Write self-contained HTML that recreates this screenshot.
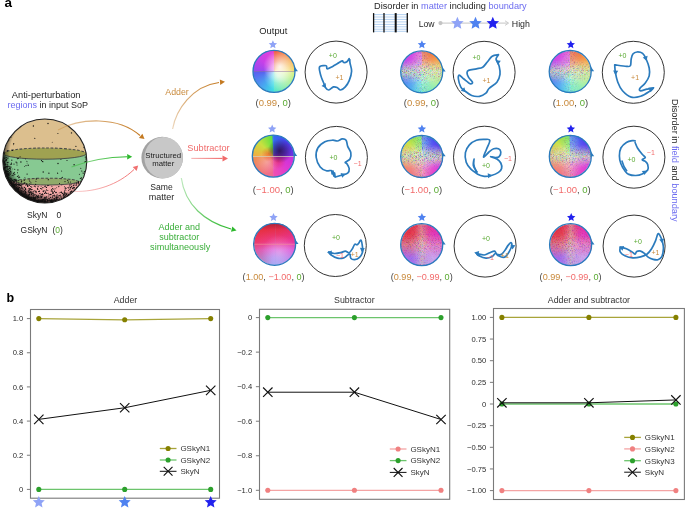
<!DOCTYPE html>
<html><head><meta charset="utf-8"><style>
html,body{margin:0;padding:0;background:#fff;}
body{width:685px;height:509px;overflow:hidden;position:relative;font-family:"Liberation Sans",sans-serif;}
.disk{position:absolute;border-radius:50%;overflow:hidden;}
svg{position:absolute;left:0;top:0;will-change:transform;}
</style></head><body>
<div class="disk" style="left:253.0px;top:50.4px;width:42px;height:42px;background:linear-gradient(180deg, rgba(0,0,0,0) 49%, rgba(150,110,160,0.5) 50%, rgba(150,110,160,0.5) 51.5%, rgba(0,0,0,0) 52.5%), linear-gradient(90deg, rgba(0,0,0,0) 49%, rgba(200,200,230,0.45) 50%, rgba(0,0,0,0) 51.5%), radial-gradient(circle at 64% 40%, rgba(255,255,255,0.85) 0%, rgba(255,255,255,0.4) 25%, rgba(255,255,255,0) 45%), radial-gradient(circle at 60% 62%, rgba(255,255,255,0.6) 0%, rgba(255,255,255,0) 40%),conic-gradient(from 0deg, #f0503c, #f27a3c 30deg, #f5b048 65deg, #f2d85a 89deg, #d8f07a 92deg, #a8f0a0 130deg, #58e8c8 178deg, #40dce6 182deg, #48a8f0 215deg, #5a5cf0 268deg, #9a48f0 272deg, #c840e8 310deg, #e440d8 358deg, #f0503c 360deg);"></div>
<div class="disk" style="left:400.7px;top:50.8px;width:42px;height:42px;background:linear-gradient(180deg, rgba(180,200,160,0) 30%, rgba(170,200,150,0.55) 50%, rgba(180,200,160,0) 70%), radial-gradient(circle at 50% 50%, rgba(255,255,255,0.45) 0%, rgba(255,255,255,0.15) 45%, rgba(255,255,255,0) 75%),conic-gradient(from 0deg, #f0503c, #f27a3c 30deg, #f5b048 65deg, #f2d85a 89deg, #d8f07a 92deg, #a8f0a0 130deg, #58e8c8 178deg, #40dce6 182deg, #48a8f0 215deg, #5a5cf0 268deg, #9a48f0 272deg, #c840e8 310deg, #e440d8 358deg, #f0503c 360deg);"></div>
<div class="disk" style="left:549.2px;top:50.5px;width:42px;height:42px;background:linear-gradient(180deg, rgba(180,200,160,0) 30%, rgba(170,200,150,0.55) 50%, rgba(180,200,160,0) 70%), radial-gradient(circle at 50% 50%, rgba(255,255,255,0.45) 0%, rgba(255,255,255,0.15) 45%, rgba(255,255,255,0) 75%),conic-gradient(from 0deg, #f0503c, #f27a3c 30deg, #f5b048 65deg, #f2d85a 89deg, #d8f07a 92deg, #a8f0a0 130deg, #58e8c8 178deg, #40dce6 182deg, #48a8f0 215deg, #5a5cf0 268deg, #9a48f0 272deg, #c840e8 310deg, #e440d8 358deg, #f0503c 360deg);"></div>
<div class="disk" style="left:252.3px;top:135.1px;width:42px;height:42px;background:linear-gradient(180deg, rgba(0,0,0,0) 49%, rgba(210,215,190,0.7) 50%, rgba(210,215,190,0.7) 51.5%, rgba(0,0,0,0) 52.5%), linear-gradient(90deg, rgba(0,0,0,0) 49%, rgba(200,200,200,0.35) 50%, rgba(0,0,0,0) 51.5%), radial-gradient(circle at 66% 38%, rgba(40,10,50,0.75) 0%, rgba(40,10,50,0.35) 18%, rgba(40,10,50,0) 32%), radial-gradient(circle at 40% 45%, rgba(240,70,30,0.6) 0%, rgba(240,70,30,0) 22%), radial-gradient(circle at 62% 62%, rgba(230,40,60,0.5) 0%, rgba(230,40,60,0) 22%), radial-gradient(circle at 35% 65%, rgba(255,230,230,0.35) 0%, rgba(255,230,230,0) 30%),conic-gradient(from 0deg, #3070f0, #4a40f0 45deg, #7030e0 89deg, #c830e0 91deg, #e03ad0 135deg, #f050b0 178deg, #f06890 182deg, #f07a70 225deg, #f09050 268deg, #f0b040 272deg, #c8e040 315deg, #60e040 357deg, #3070f0 360deg);"></div>
<div class="disk" style="left:400.7px;top:135.5px;width:42px;height:42px;background:linear-gradient(180deg, rgba(180,200,160,0) 30%, rgba(170,200,150,0.55) 50%, rgba(180,200,160,0) 70%), radial-gradient(circle at 50% 50%, rgba(255,255,255,0.45) 0%, rgba(255,255,255,0.15) 45%, rgba(255,255,255,0) 75%),conic-gradient(from 0deg, #3070f0, #4a40f0 45deg, #7030e0 89deg, #c830e0 91deg, #e03ad0 135deg, #f050b0 178deg, #f06890 182deg, #f07a70 225deg, #f09050 268deg, #f0b040 272deg, #c8e040 315deg, #60e040 357deg, #3070f0 360deg);"></div>
<div class="disk" style="left:549.3px;top:135.4px;width:42px;height:42px;background:linear-gradient(180deg, rgba(180,200,160,0) 30%, rgba(170,200,150,0.55) 50%, rgba(180,200,160,0) 70%), radial-gradient(circle at 50% 50%, rgba(255,255,255,0.45) 0%, rgba(255,255,255,0.15) 45%, rgba(255,255,255,0) 75%),conic-gradient(from 0deg, #3070f0, #4a40f0 45deg, #7030e0 89deg, #c830e0 91deg, #e03ad0 135deg, #f050b0 178deg, #f06890 182deg, #f07a70 225deg, #f09050 268deg, #f0b040 272deg, #c8e040 315deg, #60e040 357deg, #3070f0 360deg);"></div>
<div class="disk" style="left:253.6px;top:223.3px;width:42px;height:42px;background:linear-gradient(180deg, rgba(90,20,40,0.35) 0%, rgba(90,20,40,0) 16%), linear-gradient(180deg, rgba(0,0,0,0) 48.5%, rgba(240,150,150,0.45) 49.5%, rgba(240,150,150,0.45) 51.5%, rgba(0,0,0,0) 52.5%), linear-gradient(90deg, rgba(0,0,0,0) 49%, rgba(150,150,220,0.45) 50%, rgba(0,0,0,0) 51.5%), radial-gradient(circle at 60% 70%, rgba(255,255,255,0.3) 0%, rgba(255,255,255,0) 45%),linear-gradient(90deg, rgba(235,50,30,0.35) 0%, rgba(235,50,30,0) 45%, rgba(220,40,200,0) 55%, rgba(220,40,200,0.3) 100%), linear-gradient(180deg, #d8283e 0%, #e6304e 18%, #ee3c8e 45%, #dc6ade 64%, #b48ef0 82%, #a2a4f2 100%);"></div>
<div class="disk" style="left:400.7px;top:223.6px;width:42px;height:42px;background:linear-gradient(90deg, rgba(220,170,140,0) 38%, rgba(220,170,140,0.3) 50%, rgba(220,170,140,0) 62%), radial-gradient(circle at 50% 50%, rgba(255,255,255,0.18) 0%, rgba(255,255,255,0.06) 40%, rgba(255,255,255,0) 70%),radial-gradient(circle at 18% 28%, rgba(226,30,48,0.95) 0%, rgba(226,30,48,0) 48%), radial-gradient(circle at 82% 26%, rgba(226,30,196,0.9) 0%, rgba(226,30,196,0) 48%), radial-gradient(circle at 22% 80%, rgba(150,90,240,0.9) 0%, rgba(150,90,240,0) 45%), radial-gradient(circle at 80% 80%, rgba(200,160,240,0.9) 0%, rgba(200,160,240,0) 45%), linear-gradient(180deg, #e03050 0%, #e84080 45%, #d070d8 70%, #b09af0 100%);"></div>
<div class="disk" style="left:549.6px;top:223.6px;width:42px;height:42px;background:linear-gradient(90deg, rgba(220,170,140,0) 38%, rgba(220,170,140,0.3) 50%, rgba(220,170,140,0) 62%), radial-gradient(circle at 50% 50%, rgba(255,255,255,0.18) 0%, rgba(255,255,255,0.06) 40%, rgba(255,255,255,0) 70%),radial-gradient(circle at 18% 28%, rgba(226,30,48,0.95) 0%, rgba(226,30,48,0) 48%), radial-gradient(circle at 82% 26%, rgba(226,30,196,0.9) 0%, rgba(226,30,196,0) 48%), radial-gradient(circle at 22% 80%, rgba(150,90,240,0.9) 0%, rgba(150,90,240,0) 45%), radial-gradient(circle at 80% 80%, rgba(200,160,240,0.9) 0%, rgba(200,160,240,0) 45%), linear-gradient(180deg, #e03050 0%, #e84080 45%, #d070d8 70%, #b09af0 100%);"></div>
<svg width="685" height="509" viewBox="0 0 685 509" font-family="Liberation Sans, sans-serif">
<text x="4.6" y="7.2" font-size="13.5" fill="#000" text-anchor="start" font-weight="bold">a</text>
<text x="6.5" y="302.2" font-size="12.5" fill="#000" text-anchor="start" font-weight="bold">b</text>
<defs><clipPath id="sph"><circle cx="44.8" cy="161.0" r="42.0"/></clipPath>
<radialGradient id="rim" gradientUnits="userSpaceOnUse" cx="50.8" cy="154.0" r="51"><stop offset="0.80" stop-color="#000" stop-opacity="0"/><stop offset="0.89" stop-color="#000" stop-opacity="0.4"/><stop offset="0.95" stop-color="#000" stop-opacity="0.85"/><stop offset="1" stop-color="#000" stop-opacity="0.95"/></radialGradient></defs>
<g clip-path="url(#sph)">
<rect x="0" y="110" width="95" height="100" fill="#dcbf8e"/>
<rect x="0" y="153.6" width="95" height="28.0" fill="#87c992"/>
<rect x="0" y="181.6" width="95" height="30" fill="#f5aaa8"/>
<ellipse cx="44.8" cy="153.6" rx="41.6" ry="5.6" fill="#9fa251"/>
<ellipse cx="46.7" cy="181.6" rx="31.5" ry="3.4" fill="#90aa6a"/>
<path d="M3.1999999999999957,153.6 A41.6,5.6 0 0 0 86.4,153.6" fill="none" stroke="#444" stroke-width="0.9"/>
<path d="M3.1999999999999957,153.6 A41.6,5.6 0 0 1 86.4,153.6" fill="none" stroke="#4a4a4a" stroke-width="1.1" stroke-dasharray="2.8,1.6"/>
<path d="M15.200000000000003,181.6 A31.5,3.4 0 0 0 78.2,181.6" fill="none" stroke="#444" stroke-width="0.9"/>
<path d="M15.200000000000003,181.6 A31.5,3.4 0 0 1 78.2,181.6" fill="none" stroke="#4a4a4a" stroke-width="1.1" stroke-dasharray="2.8,1.6"/>
<circle cx="44.8" cy="161.0" r="42.0" fill="url(#rim)"/>
<g fill="#111"><circle cx="10.8" cy="178.4" r="0.58"/><circle cx="61.8" cy="185.0" r="0.45"/><circle cx="52.6" cy="201.2" r="0.46"/><circle cx="3.1" cy="164.3" r="0.63"/><circle cx="32.4" cy="195.4" r="0.46"/><circle cx="4.7" cy="167.4" r="0.65"/><circle cx="35.6" cy="184.3" r="0.66"/><circle cx="53.8" cy="189.4" r="0.48"/><circle cx="34.2" cy="190.8" r="0.63"/><circle cx="74.0" cy="187.9" r="0.70"/><circle cx="29.3" cy="196.2" r="0.45"/><circle cx="14.7" cy="169.3" r="0.57"/><circle cx="4.9" cy="171.1" r="0.57"/><circle cx="45.6" cy="202.2" r="0.50"/><circle cx="33.4" cy="200.4" r="0.58"/><circle cx="20.4" cy="194.0" r="0.66"/><circle cx="35.9" cy="181.2" r="0.55"/><circle cx="4.4" cy="162.7" r="0.61"/><circle cx="15.3" cy="189.4" r="0.69"/><circle cx="66.4" cy="194.4" r="0.60"/><circle cx="15.3" cy="184.1" r="0.46"/><circle cx="71.7" cy="191.4" r="0.63"/><circle cx="45.2" cy="200.9" r="0.68"/><circle cx="79.4" cy="174.3" r="0.50"/><circle cx="52.6" cy="193.2" r="0.65"/><circle cx="48.0" cy="119.6" r="0.48"/><circle cx="78.7" cy="181.4" r="0.66"/><circle cx="55.9" cy="192.6" r="0.59"/><circle cx="51.9" cy="186.2" r="0.52"/><circle cx="32.0" cy="191.7" r="0.56"/><circle cx="3.4" cy="163.6" r="0.64"/><circle cx="51.0" cy="201.8" r="0.69"/><circle cx="34.6" cy="197.8" r="0.57"/><circle cx="9.4" cy="170.6" r="0.53"/><circle cx="46.5" cy="196.9" r="0.70"/><circle cx="31.4" cy="194.3" r="0.55"/><circle cx="27.8" cy="186.0" r="0.49"/><circle cx="28.2" cy="197.3" r="0.61"/><circle cx="17.3" cy="192.5" r="0.58"/><circle cx="33.6" cy="201.0" r="0.58"/><circle cx="6.0" cy="166.7" r="0.68"/><circle cx="44.7" cy="199.0" r="0.54"/><circle cx="35.7" cy="201.7" r="0.50"/><circle cx="3.6" cy="161.5" r="0.61"/><circle cx="20.5" cy="193.9" r="0.56"/><circle cx="64.5" cy="190.3" r="0.49"/><circle cx="40.1" cy="199.1" r="0.53"/><circle cx="15.4" cy="189.7" r="0.62"/><circle cx="42.1" cy="200.7" r="0.66"/><circle cx="53.9" cy="199.1" r="0.69"/><circle cx="30.0" cy="191.8" r="0.64"/><circle cx="45.2" cy="199.6" r="0.65"/><circle cx="34.8" cy="138.3" r="0.58"/><circle cx="8.8" cy="179.6" r="0.63"/><circle cx="70.3" cy="187.4" r="0.69"/><circle cx="18.7" cy="189.0" r="0.70"/><circle cx="6.0" cy="175.5" r="0.54"/><circle cx="14.0" cy="185.4" r="0.50"/><circle cx="61.7" cy="198.0" r="0.49"/><circle cx="32.2" cy="201.0" r="0.47"/><circle cx="5.3" cy="164.6" r="0.46"/><circle cx="76.5" cy="187.7" r="0.58"/><circle cx="4.6" cy="161.9" r="0.59"/><circle cx="8.6" cy="181.2" r="0.59"/><circle cx="28.2" cy="198.9" r="0.62"/><circle cx="30.9" cy="182.9" r="0.54"/><circle cx="54.4" cy="191.2" r="0.60"/><circle cx="5.7" cy="167.5" r="0.50"/><circle cx="7.8" cy="174.4" r="0.65"/><circle cx="14.1" cy="174.6" r="0.58"/><circle cx="31.6" cy="189.6" r="0.67"/><circle cx="13.5" cy="175.8" r="0.49"/><circle cx="4.3" cy="161.9" r="0.60"/><circle cx="50.6" cy="201.0" r="0.53"/><circle cx="20.7" cy="185.2" r="0.69"/><circle cx="64.5" cy="196.7" r="0.55"/><circle cx="5.2" cy="160.6" r="0.61"/><circle cx="34.5" cy="199.3" r="0.55"/><circle cx="5.7" cy="170.6" r="0.64"/><circle cx="24.6" cy="197.2" r="0.54"/><circle cx="32.3" cy="200.2" r="0.54"/><circle cx="70.0" cy="184.9" r="0.52"/><circle cx="3.1" cy="159.2" r="0.66"/><circle cx="8.5" cy="171.6" r="0.65"/><circle cx="17.6" cy="192.3" r="0.51"/><circle cx="8.3" cy="180.9" r="0.59"/><circle cx="14.2" cy="188.7" r="0.67"/><circle cx="13.8" cy="188.2" r="0.57"/><circle cx="56.2" cy="199.4" r="0.65"/><circle cx="20.1" cy="193.4" r="0.47"/><circle cx="15.4" cy="184.6" r="0.54"/><circle cx="22.5" cy="188.1" r="0.59"/><circle cx="52.3" cy="197.7" r="0.46"/><circle cx="7.1" cy="166.7" r="0.50"/><circle cx="47.2" cy="201.4" r="0.48"/><circle cx="38.1" cy="186.6" r="0.60"/><circle cx="42.3" cy="202.2" r="0.48"/><circle cx="11.1" cy="173.2" r="0.46"/><circle cx="21.4" cy="188.0" r="0.65"/><circle cx="4.9" cy="168.8" r="0.65"/><circle cx="40.9" cy="201.2" r="0.59"/><circle cx="27.1" cy="163.1" r="0.46"/><circle cx="17.9" cy="190.5" r="0.56"/><circle cx="16.5" cy="181.0" r="0.69"/><circle cx="4.0" cy="158.0" r="0.48"/><circle cx="64.9" cy="193.5" r="0.45"/><circle cx="40.0" cy="201.5" r="0.52"/><circle cx="16.6" cy="191.1" r="0.54"/><circle cx="43.2" cy="172.0" r="0.68"/><circle cx="61.1" cy="192.0" r="0.51"/><circle cx="79.0" cy="184.0" r="0.55"/><circle cx="36.1" cy="196.8" r="0.65"/><circle cx="4.3" cy="168.0" r="0.47"/><circle cx="3.8" cy="169.0" r="0.62"/><circle cx="50.5" cy="200.6" r="0.69"/><circle cx="16.6" cy="187.2" r="0.53"/><circle cx="25.9" cy="192.5" r="0.53"/><circle cx="4.1" cy="164.5" r="0.47"/><circle cx="10.8" cy="137.2" r="0.63"/><circle cx="12.4" cy="185.8" r="0.67"/><circle cx="29.6" cy="194.2" r="0.55"/><circle cx="66.0" cy="188.3" r="0.66"/><circle cx="45.0" cy="198.9" r="0.61"/><circle cx="22.4" cy="194.8" r="0.64"/><circle cx="69.6" cy="189.7" r="0.49"/><circle cx="18.3" cy="192.1" r="0.60"/><circle cx="7.8" cy="179.4" r="0.60"/><circle cx="40.5" cy="200.2" r="0.48"/><circle cx="26.4" cy="198.0" r="0.61"/><circle cx="19.6" cy="191.9" r="0.63"/><circle cx="18.4" cy="177.1" r="0.59"/><circle cx="4.3" cy="157.9" r="0.62"/><circle cx="78.3" cy="182.7" r="0.65"/><circle cx="37.8" cy="201.9" r="0.56"/><circle cx="19.6" cy="184.5" r="0.57"/><circle cx="45.1" cy="201.4" r="0.63"/><circle cx="28.6" cy="199.1" r="0.69"/><circle cx="24.9" cy="177.5" r="0.46"/><circle cx="19.4" cy="187.4" r="0.70"/><circle cx="47.1" cy="199.8" r="0.51"/><circle cx="5.8" cy="176.3" r="0.68"/><circle cx="26.0" cy="165.6" r="0.57"/><circle cx="17.8" cy="189.1" r="0.62"/><circle cx="43.0" cy="194.7" r="0.54"/><circle cx="32.6" cy="189.7" r="0.49"/><circle cx="5.6" cy="174.2" r="0.46"/><circle cx="21.9" cy="191.2" r="0.55"/><circle cx="6.4" cy="160.1" r="0.51"/><circle cx="11.8" cy="183.0" r="0.46"/><circle cx="71.7" cy="184.8" r="0.50"/><circle cx="7.5" cy="173.4" r="0.56"/><circle cx="7.0" cy="174.8" r="0.58"/><circle cx="65.0" cy="181.6" r="0.60"/><circle cx="11.0" cy="181.8" r="0.64"/><circle cx="10.3" cy="169.3" r="0.52"/><circle cx="59.7" cy="199.4" r="0.47"/><circle cx="15.8" cy="191.0" r="0.68"/><circle cx="72.2" cy="188.3" r="0.45"/><circle cx="26.2" cy="196.9" r="0.49"/><circle cx="64.0" cy="197.7" r="0.56"/><circle cx="42.4" cy="194.0" r="0.55"/><circle cx="28.0" cy="196.5" r="0.51"/><circle cx="23.4" cy="192.0" r="0.45"/><circle cx="52.2" cy="142.3" r="0.46"/><circle cx="21.8" cy="193.0" r="0.67"/><circle cx="37.5" cy="196.4" r="0.66"/><circle cx="17.9" cy="188.2" r="0.50"/><circle cx="5.6" cy="174.8" r="0.60"/><circle cx="59.9" cy="199.6" r="0.46"/><circle cx="14.6" cy="189.8" r="0.68"/><circle cx="16.7" cy="184.8" r="0.64"/><circle cx="21.8" cy="195.3" r="0.48"/><circle cx="14.0" cy="180.4" r="0.57"/><circle cx="7.9" cy="179.8" r="0.63"/><circle cx="9.9" cy="182.2" r="0.45"/><circle cx="7.3" cy="158.1" r="0.58"/><circle cx="3.2" cy="157.7" r="0.57"/><circle cx="33.4" cy="195.0" r="0.48"/><circle cx="9.6" cy="175.0" r="0.49"/><circle cx="38.8" cy="197.7" r="0.46"/><circle cx="8.8" cy="179.2" r="0.47"/><circle cx="46.9" cy="202.6" r="0.64"/><circle cx="43.3" cy="199.6" r="0.69"/><circle cx="80.4" cy="182.6" r="0.61"/><circle cx="7.5" cy="176.9" r="0.66"/><circle cx="81.8" cy="171.0" r="0.62"/><circle cx="58.7" cy="199.8" r="0.57"/><circle cx="78.8" cy="182.6" r="0.49"/><circle cx="4.3" cy="153.5" r="0.59"/><circle cx="23.8" cy="195.1" r="0.52"/><circle cx="78.1" cy="183.7" r="0.61"/><circle cx="28.0" cy="194.5" r="0.47"/><circle cx="75.9" cy="146.3" r="0.65"/><circle cx="62.2" cy="177.4" r="0.66"/><circle cx="50.7" cy="194.6" r="0.68"/><circle cx="74.1" cy="164.7" r="0.68"/><circle cx="49.0" cy="200.6" r="0.56"/><circle cx="7.4" cy="162.6" r="0.70"/><circle cx="36.4" cy="200.3" r="0.50"/><circle cx="38.4" cy="200.2" r="0.57"/><circle cx="23.0" cy="189.1" r="0.54"/><circle cx="50.6" cy="194.4" r="0.65"/><circle cx="9.8" cy="166.9" r="0.54"/><circle cx="10.9" cy="164.4" r="0.55"/><circle cx="39.2" cy="202.0" r="0.49"/><circle cx="59.1" cy="193.0" r="0.47"/><circle cx="21.5" cy="181.8" r="0.68"/><circle cx="56.1" cy="192.5" r="0.70"/><circle cx="15.2" cy="186.1" r="0.49"/><circle cx="23.2" cy="194.7" r="0.68"/><circle cx="21.3" cy="185.0" r="0.63"/><circle cx="18.6" cy="175.3" r="0.48"/><circle cx="76.4" cy="183.1" r="0.65"/><circle cx="15.1" cy="179.4" r="0.67"/><circle cx="30.9" cy="198.5" r="0.67"/><circle cx="48.2" cy="193.3" r="0.50"/><circle cx="63.7" cy="194.5" r="0.64"/><circle cx="17.4" cy="191.4" r="0.55"/><circle cx="8.8" cy="166.3" r="0.62"/><circle cx="52.7" cy="188.6" r="0.67"/><circle cx="43.6" cy="199.1" r="0.58"/><circle cx="43.0" cy="201.5" r="0.59"/><circle cx="5.8" cy="173.6" r="0.53"/><circle cx="44.9" cy="202.1" r="0.67"/><circle cx="46.5" cy="189.9" r="0.57"/><circle cx="62.1" cy="199.0" r="0.63"/><circle cx="6.1" cy="159.5" r="0.60"/><circle cx="44.9" cy="190.8" r="0.56"/><circle cx="33.1" cy="197.2" r="0.68"/><circle cx="25.5" cy="159.0" r="0.46"/><circle cx="64.6" cy="186.5" r="0.47"/><circle cx="7.6" cy="171.4" r="0.61"/><circle cx="70.3" cy="188.9" r="0.64"/><circle cx="15.6" cy="191.2" r="0.55"/><circle cx="18.8" cy="185.1" r="0.54"/><circle cx="23.4" cy="197.0" r="0.61"/><circle cx="64.2" cy="195.2" r="0.51"/><circle cx="23.9" cy="195.7" r="0.69"/><circle cx="34.3" cy="194.8" r="0.67"/><circle cx="24.7" cy="197.7" r="0.67"/><circle cx="13.8" cy="184.5" r="0.64"/><circle cx="49.1" cy="194.6" r="0.52"/><circle cx="39.6" cy="201.2" r="0.50"/><circle cx="52.4" cy="202.2" r="0.51"/><circle cx="20.1" cy="156.8" r="0.55"/><circle cx="15.0" cy="174.3" r="0.53"/><circle cx="67.0" cy="160.5" r="0.57"/><circle cx="14.0" cy="184.0" r="0.55"/><circle cx="57.8" cy="197.4" r="0.67"/><circle cx="70.5" cy="192.3" r="0.51"/><circle cx="19.9" cy="194.2" r="0.50"/><circle cx="34.4" cy="200.6" r="0.62"/><circle cx="7.2" cy="178.9" r="0.63"/><circle cx="8.7" cy="182.3" r="0.57"/><circle cx="30.8" cy="199.2" r="0.65"/><circle cx="51.0" cy="194.3" r="0.50"/><circle cx="54.1" cy="200.5" r="0.52"/><circle cx="17.4" cy="158.7" r="0.58"/><circle cx="37.5" cy="188.3" r="0.63"/><circle cx="40.8" cy="200.7" r="0.55"/><circle cx="10.4" cy="181.0" r="0.69"/><circle cx="11.2" cy="185.8" r="0.56"/><circle cx="60.9" cy="196.8" r="0.66"/><circle cx="16.9" cy="162.9" r="0.59"/><circle cx="81.0" cy="181.1" r="0.65"/><circle cx="5.0" cy="163.4" r="0.58"/><circle cx="21.0" cy="190.6" r="0.61"/><circle cx="18.8" cy="182.3" r="0.49"/><circle cx="11.1" cy="180.3" r="0.58"/><circle cx="21.5" cy="186.7" r="0.54"/><circle cx="17.4" cy="191.5" r="0.58"/><circle cx="17.5" cy="172.8" r="0.56"/><circle cx="8.0" cy="169.0" r="0.52"/><circle cx="58.0" cy="163.5" r="0.68"/><circle cx="14.4" cy="181.7" r="0.56"/><circle cx="6.1" cy="172.2" r="0.46"/><circle cx="16.5" cy="185.2" r="0.63"/><circle cx="42.9" cy="187.6" r="0.67"/><circle cx="7.9" cy="174.7" r="0.65"/><circle cx="5.4" cy="174.2" r="0.66"/><circle cx="29.1" cy="179.1" r="0.45"/><circle cx="67.3" cy="193.1" r="0.46"/><circle cx="10.9" cy="178.9" r="0.64"/><circle cx="12.5" cy="150.4" r="0.53"/><circle cx="78.4" cy="182.6" r="0.69"/><circle cx="38.8" cy="199.8" r="0.66"/><circle cx="37.1" cy="200.9" r="0.51"/><circle cx="8.9" cy="181.8" r="0.48"/><circle cx="44.4" cy="201.5" r="0.62"/><circle cx="61.6" cy="170.9" r="0.50"/><circle cx="5.6" cy="171.1" r="0.68"/><circle cx="74.0" cy="185.0" r="0.64"/><circle cx="22.7" cy="194.4" r="0.58"/><circle cx="30.6" cy="199.2" r="0.48"/><circle cx="70.5" cy="182.0" r="0.59"/><circle cx="55.9" cy="200.7" r="0.62"/><circle cx="19.6" cy="177.2" r="0.61"/><circle cx="13.1" cy="185.8" r="0.58"/><circle cx="86.5" cy="157.0" r="0.59"/><circle cx="38.7" cy="202.1" r="0.70"/><circle cx="8.0" cy="169.7" r="0.70"/><circle cx="7.7" cy="180.6" r="0.50"/><circle cx="39.6" cy="193.6" r="0.47"/><circle cx="6.6" cy="173.3" r="0.65"/><circle cx="44.6" cy="200.6" r="0.56"/><circle cx="8.6" cy="174.7" r="0.60"/><circle cx="47.4" cy="199.5" r="0.51"/><circle cx="39.1" cy="197.1" r="0.69"/><circle cx="28.4" cy="191.2" r="0.65"/><circle cx="40.2" cy="202.5" r="0.58"/><circle cx="47.8" cy="190.4" r="0.50"/><circle cx="48.3" cy="179.7" r="0.61"/><circle cx="11.8" cy="179.4" r="0.51"/><circle cx="21.7" cy="194.2" r="0.48"/><circle cx="46.0" cy="197.8" r="0.62"/><circle cx="15.0" cy="190.1" r="0.47"/><circle cx="9.8" cy="182.1" r="0.52"/><circle cx="24.2" cy="180.2" r="0.69"/><circle cx="33.7" cy="195.9" r="0.57"/><circle cx="9.0" cy="174.6" r="0.48"/><circle cx="7.5" cy="150.8" r="0.63"/><circle cx="52.0" cy="201.4" r="0.53"/><circle cx="4.5" cy="164.3" r="0.46"/><circle cx="30.8" cy="192.8" r="0.45"/><circle cx="17.6" cy="186.8" r="0.48"/><circle cx="25.3" cy="191.5" r="0.59"/><circle cx="4.9" cy="158.7" r="0.64"/><circle cx="51.9" cy="201.7" r="0.52"/><circle cx="16.4" cy="187.5" r="0.48"/><circle cx="17.0" cy="164.9" r="0.52"/><circle cx="31.7" cy="187.1" r="0.60"/><circle cx="47.6" cy="200.3" r="0.60"/><circle cx="54.4" cy="195.9" r="0.65"/><circle cx="28.6" cy="199.1" r="0.64"/><circle cx="16.2" cy="183.6" r="0.52"/><circle cx="8.6" cy="158.0" r="0.49"/><circle cx="45.0" cy="199.7" r="0.51"/><circle cx="63.9" cy="194.7" r="0.56"/><circle cx="44.7" cy="202.9" r="0.48"/><circle cx="17.2" cy="190.9" r="0.56"/><circle cx="66.6" cy="196.5" r="0.55"/><circle cx="35.1" cy="201.2" r="0.61"/><circle cx="41.0" cy="196.6" r="0.57"/><circle cx="9.3" cy="168.4" r="0.56"/><circle cx="5.8" cy="164.4" r="0.56"/><circle cx="68.5" cy="190.3" r="0.53"/><circle cx="5.6" cy="175.1" r="0.54"/><circle cx="21.6" cy="194.4" r="0.52"/><circle cx="33.9" cy="198.3" r="0.64"/><circle cx="6.1" cy="158.9" r="0.48"/><circle cx="13.8" cy="179.7" r="0.55"/><circle cx="18.5" cy="158.3" r="0.56"/><circle cx="47.3" cy="199.7" r="0.46"/><circle cx="30.7" cy="191.9" r="0.65"/><circle cx="29.4" cy="185.5" r="0.56"/><circle cx="17.7" cy="188.8" r="0.69"/><circle cx="60.2" cy="192.4" r="0.52"/><circle cx="55.6" cy="200.5" r="0.57"/><circle cx="80.4" cy="178.3" r="0.67"/><circle cx="24.3" cy="197.5" r="0.58"/><circle cx="26.0" cy="194.7" r="0.63"/><circle cx="7.9" cy="177.2" r="0.58"/><circle cx="30.4" cy="198.7" r="0.67"/><circle cx="63.3" cy="195.5" r="0.53"/><circle cx="14.7" cy="186.2" r="0.67"/><circle cx="51.8" cy="201.2" r="0.62"/><circle cx="6.3" cy="171.7" r="0.65"/><circle cx="19.4" cy="184.8" r="0.46"/><circle cx="6.5" cy="174.1" r="0.68"/><circle cx="35.8" cy="191.9" r="0.56"/><circle cx="18.1" cy="191.1" r="0.54"/><circle cx="44.6" cy="201.8" r="0.47"/><circle cx="32.4" cy="200.1" r="0.55"/><circle cx="9.4" cy="181.7" r="0.53"/><circle cx="65.6" cy="195.6" r="0.46"/><circle cx="26.5" cy="196.9" r="0.55"/><circle cx="73.3" cy="185.6" r="0.69"/><circle cx="56.8" cy="198.8" r="0.56"/><circle cx="8.3" cy="181.6" r="0.61"/><circle cx="85.4" cy="161.3" r="0.67"/><circle cx="45.4" cy="200.9" r="0.50"/><circle cx="38.7" cy="195.3" r="0.55"/><circle cx="18.2" cy="191.7" r="0.64"/><circle cx="51.9" cy="202.4" r="0.60"/><circle cx="7.2" cy="167.9" r="0.61"/><circle cx="54.7" cy="191.2" r="0.50"/><circle cx="45.3" cy="186.1" r="0.61"/><circle cx="25.2" cy="197.1" r="0.58"/><circle cx="17.5" cy="189.5" r="0.46"/><circle cx="35.8" cy="191.2" r="0.66"/><circle cx="56.4" cy="197.3" r="0.70"/><circle cx="13.1" cy="186.7" r="0.53"/><circle cx="5.8" cy="176.1" r="0.62"/><circle cx="56.7" cy="187.8" r="0.47"/><circle cx="18.4" cy="190.7" r="0.45"/><circle cx="55.3" cy="201.1" r="0.67"/><circle cx="29.0" cy="192.5" r="0.66"/><circle cx="42.1" cy="201.5" r="0.64"/><circle cx="36.3" cy="192.1" r="0.63"/><circle cx="13.5" cy="184.0" r="0.64"/><circle cx="39.0" cy="200.7" r="0.64"/><circle cx="13.8" cy="187.0" r="0.66"/><circle cx="49.9" cy="200.2" r="0.54"/><circle cx="9.0" cy="177.5" r="0.53"/><circle cx="16.1" cy="162.1" r="0.64"/><circle cx="70.0" cy="184.7" r="0.55"/><circle cx="6.2" cy="160.4" r="0.49"/><circle cx="24.0" cy="194.1" r="0.54"/><circle cx="17.8" cy="192.0" r="0.54"/><circle cx="18.5" cy="188.3" r="0.48"/><circle cx="61.5" cy="192.0" r="0.47"/><circle cx="18.6" cy="192.4" r="0.59"/><circle cx="41.6" cy="196.3" r="0.51"/><circle cx="38.5" cy="197.1" r="0.59"/><circle cx="14.7" cy="187.0" r="0.59"/><circle cx="31.8" cy="197.5" r="0.52"/><circle cx="53.4" cy="201.3" r="0.52"/><circle cx="9.9" cy="183.2" r="0.46"/><circle cx="6.8" cy="176.5" r="0.50"/><circle cx="65.3" cy="189.8" r="0.46"/><circle cx="22.3" cy="195.2" r="0.60"/><circle cx="43.3" cy="191.5" r="0.68"/><circle cx="8.8" cy="173.6" r="0.58"/><circle cx="68.0" cy="195.2" r="0.58"/><circle cx="26.5" cy="184.1" r="0.68"/><circle cx="35.2" cy="201.0" r="0.49"/><circle cx="3.3" cy="155.3" r="0.55"/><circle cx="33.3" cy="198.7" r="0.63"/><circle cx="55.1" cy="188.7" r="0.52"/><circle cx="3.9" cy="162.7" r="0.57"/><circle cx="18.1" cy="192.8" r="0.48"/><circle cx="11.7" cy="182.2" r="0.60"/><circle cx="41.1" cy="200.8" r="0.63"/><circle cx="13.2" cy="187.8" r="0.58"/><circle cx="56.9" cy="199.6" r="0.67"/><circle cx="25.9" cy="185.3" r="0.54"/><circle cx="16.1" cy="183.9" r="0.59"/><circle cx="18.1" cy="190.0" r="0.58"/><circle cx="34.1" cy="186.3" r="0.47"/><circle cx="59.7" cy="195.6" r="0.55"/><circle cx="36.6" cy="195.8" r="0.53"/><circle cx="4.9" cy="170.8" r="0.61"/><circle cx="14.0" cy="164.1" r="0.57"/><circle cx="13.7" cy="181.9" r="0.61"/><circle cx="20.1" cy="185.4" r="0.50"/><circle cx="19.0" cy="192.1" r="0.46"/><circle cx="21.3" cy="193.6" r="0.45"/><circle cx="22.2" cy="194.7" r="0.68"/><circle cx="53.1" cy="195.5" r="0.65"/><circle cx="18.8" cy="178.1" r="0.49"/><circle cx="51.3" cy="191.0" r="0.68"/><circle cx="13.3" cy="173.5" r="0.46"/><circle cx="24.5" cy="187.3" r="0.66"/><circle cx="14.8" cy="186.0" r="0.63"/><circle cx="27.8" cy="198.8" r="0.50"/><circle cx="17.7" cy="184.5" r="0.70"/><circle cx="26.9" cy="161.2" r="0.53"/><circle cx="58.0" cy="196.0" r="0.67"/><circle cx="6.7" cy="178.6" r="0.57"/><circle cx="30.6" cy="198.4" r="0.67"/><circle cx="14.4" cy="185.0" r="0.55"/><circle cx="63.0" cy="193.7" r="0.52"/><circle cx="68.3" cy="195.7" r="0.55"/><circle cx="31.1" cy="192.6" r="0.60"/><circle cx="50.4" cy="202.5" r="0.48"/><circle cx="6.9" cy="178.1" r="0.57"/><circle cx="38.5" cy="191.6" r="0.55"/><circle cx="62.4" cy="193.4" r="0.58"/><circle cx="19.2" cy="194.3" r="0.69"/><circle cx="35.5" cy="186.7" r="0.50"/><circle cx="34.7" cy="186.1" r="0.58"/><circle cx="52.9" cy="200.6" r="0.50"/><circle cx="46.4" cy="202.9" r="0.49"/><circle cx="5.2" cy="166.9" r="0.60"/><circle cx="7.7" cy="179.3" r="0.58"/><circle cx="26.0" cy="194.8" r="0.60"/><circle cx="68.6" cy="187.8" r="0.60"/><circle cx="37.2" cy="198.2" r="0.53"/><circle cx="13.6" cy="184.8" r="0.58"/><circle cx="14.2" cy="189.5" r="0.65"/><circle cx="20.9" cy="162.0" r="0.68"/><circle cx="28.8" cy="199.4" r="0.54"/><circle cx="65.2" cy="188.0" r="0.70"/><circle cx="3.8" cy="163.0" r="0.62"/><circle cx="3.5" cy="160.7" r="0.68"/><circle cx="5.9" cy="176.5" r="0.45"/><circle cx="15.5" cy="180.3" r="0.59"/><circle cx="10.5" cy="174.1" r="0.59"/><circle cx="10.1" cy="170.6" r="0.46"/><circle cx="39.4" cy="191.2" r="0.69"/><circle cx="7.5" cy="166.0" r="0.51"/><circle cx="81.7" cy="179.5" r="0.48"/><circle cx="67.8" cy="187.5" r="0.46"/><circle cx="52.7" cy="202.0" r="0.63"/><circle cx="5.8" cy="174.5" r="0.49"/><circle cx="23.0" cy="196.5" r="0.59"/><circle cx="24.6" cy="197.2" r="0.62"/><circle cx="28.2" cy="165.2" r="0.68"/><circle cx="68.4" cy="194.4" r="0.55"/><circle cx="80.8" cy="168.2" r="0.54"/><circle cx="37.8" cy="197.0" r="0.64"/><circle cx="25.6" cy="193.1" r="0.67"/><circle cx="20.2" cy="188.9" r="0.54"/><circle cx="40.0" cy="201.4" r="0.57"/><circle cx="46.5" cy="202.1" r="0.52"/><circle cx="23.0" cy="196.4" r="0.47"/><circle cx="6.0" cy="173.6" r="0.58"/><circle cx="49.6" cy="199.3" r="0.45"/><circle cx="47.7" cy="185.6" r="0.60"/><circle cx="29.4" cy="189.9" r="0.64"/><circle cx="61.7" cy="198.9" r="0.56"/><circle cx="43.5" cy="202.9" r="0.53"/><circle cx="44.3" cy="198.0" r="0.51"/><circle cx="8.6" cy="179.5" r="0.56"/><circle cx="3.2" cy="159.0" r="0.57"/><circle cx="29.5" cy="194.3" r="0.70"/><circle cx="18.4" cy="184.0" r="0.55"/><circle cx="74.4" cy="190.1" r="0.67"/><circle cx="43.5" cy="199.7" r="0.57"/><circle cx="53.1" cy="201.1" r="0.58"/><circle cx="65.7" cy="195.0" r="0.59"/><circle cx="40.7" cy="197.1" r="0.64"/><circle cx="34.8" cy="199.9" r="0.61"/><circle cx="64.5" cy="197.6" r="0.69"/><circle cx="11.8" cy="160.2" r="0.58"/><circle cx="6.3" cy="171.1" r="0.61"/><circle cx="37.4" cy="200.9" r="0.54"/><circle cx="17.4" cy="176.3" r="0.62"/><circle cx="10.9" cy="172.2" r="0.53"/><circle cx="18.3" cy="187.9" r="0.60"/><circle cx="57.1" cy="194.2" r="0.55"/><circle cx="59.5" cy="183.5" r="0.55"/><circle cx="12.1" cy="185.3" r="0.66"/><circle cx="24.4" cy="166.6" r="0.49"/><circle cx="45.6" cy="191.8" r="0.50"/><circle cx="6.4" cy="157.5" r="0.50"/><circle cx="31.1" cy="199.9" r="0.69"/><circle cx="21.1" cy="193.1" r="0.58"/><circle cx="55.4" cy="199.3" r="0.48"/><circle cx="7.5" cy="164.5" r="0.49"/><circle cx="36.7" cy="195.3" r="0.57"/><circle cx="11.5" cy="182.0" r="0.54"/><circle cx="52.5" cy="196.9" r="0.54"/><circle cx="51.6" cy="200.4" r="0.69"/><circle cx="29.5" cy="183.7" r="0.46"/><circle cx="49.0" cy="198.5" r="0.65"/><circle cx="42.1" cy="201.3" r="0.66"/><circle cx="26.7" cy="195.7" r="0.53"/><circle cx="30.7" cy="186.5" r="0.59"/><circle cx="66.2" cy="196.1" r="0.60"/><circle cx="47.5" cy="202.3" r="0.49"/><circle cx="29.0" cy="190.2" r="0.58"/><circle cx="11.1" cy="185.8" r="0.60"/><circle cx="56.2" cy="195.9" r="0.67"/><circle cx="37.3" cy="200.3" r="0.67"/><circle cx="41.2" cy="202.6" r="0.59"/><circle cx="13.3" cy="184.9" r="0.64"/><circle cx="37.9" cy="200.9" r="0.51"/><circle cx="20.1" cy="183.9" r="0.49"/><circle cx="32.5" cy="201.1" r="0.59"/><circle cx="34.3" cy="198.0" r="0.57"/><circle cx="35.2" cy="198.9" r="0.56"/><circle cx="26.2" cy="196.3" r="0.49"/><circle cx="13.4" cy="144.8" r="0.48"/><circle cx="46.4" cy="187.4" r="0.67"/><circle cx="66.1" cy="197.1" r="0.64"/><circle cx="57.9" cy="133.5" r="0.53"/><circle cx="42.5" cy="161.5" r="0.61"/><circle cx="24.1" cy="196.6" r="0.66"/><circle cx="46.7" cy="193.4" r="0.63"/><circle cx="42.8" cy="199.4" r="0.63"/><circle cx="52.3" cy="201.3" r="0.66"/><circle cx="15.6" cy="184.8" r="0.47"/><circle cx="6.4" cy="166.4" r="0.52"/><circle cx="28.0" cy="195.7" r="0.51"/><circle cx="54.2" cy="200.1" r="0.49"/><circle cx="8.6" cy="140.5" r="0.63"/><circle cx="17.2" cy="191.3" r="0.70"/><circle cx="38.2" cy="200.5" r="0.59"/><circle cx="22.1" cy="184.6" r="0.57"/><circle cx="51.4" cy="199.9" r="0.53"/><circle cx="6.7" cy="159.6" r="0.53"/><circle cx="41.7" cy="188.9" r="0.63"/><circle cx="16.5" cy="190.1" r="0.63"/><circle cx="17.2" cy="188.3" r="0.62"/><circle cx="5.4" cy="174.9" r="0.58"/><circle cx="30.4" cy="197.2" r="0.50"/><circle cx="49.2" cy="195.0" r="0.47"/><circle cx="31.5" cy="196.1" r="0.45"/><circle cx="30.6" cy="189.1" r="0.68"/><circle cx="52.1" cy="201.1" r="0.55"/><circle cx="36.2" cy="200.6" r="0.70"/><circle cx="3.1" cy="162.5" r="0.50"/><circle cx="27.9" cy="185.5" r="0.51"/><circle cx="29.6" cy="188.7" r="0.55"/><circle cx="5.2" cy="167.6" r="0.54"/><circle cx="41.8" cy="197.8" r="0.53"/><circle cx="65.5" cy="196.0" r="0.46"/><circle cx="28.8" cy="197.6" r="0.64"/><circle cx="27.7" cy="186.0" r="0.67"/><circle cx="26.8" cy="183.7" r="0.56"/><circle cx="6.5" cy="178.1" r="0.51"/><circle cx="44.6" cy="193.4" r="0.57"/><circle cx="41.1" cy="200.1" r="0.69"/><circle cx="24.2" cy="183.2" r="0.67"/><circle cx="48.9" cy="173.2" r="0.67"/><circle cx="42.9" cy="161.7" r="0.55"/><circle cx="13.8" cy="173.4" r="0.53"/><circle cx="13.7" cy="143.7" r="0.61"/><circle cx="47.4" cy="200.7" r="0.60"/><circle cx="29.7" cy="192.7" r="0.61"/><circle cx="37.7" cy="202.3" r="0.68"/><circle cx="28.3" cy="195.6" r="0.56"/><circle cx="45.2" cy="201.5" r="0.56"/><circle cx="56.1" cy="201.3" r="0.62"/><circle cx="50.6" cy="197.4" r="0.57"/><circle cx="64.9" cy="192.3" r="0.65"/><circle cx="18.6" cy="189.4" r="0.55"/><circle cx="42.1" cy="200.9" r="0.56"/><circle cx="67.4" cy="195.6" r="0.57"/><circle cx="27.1" cy="174.1" r="0.66"/><circle cx="53.5" cy="193.0" r="0.58"/><circle cx="70.8" cy="193.4" r="0.51"/><circle cx="84.0" cy="147.6" r="0.61"/><circle cx="54.4" cy="195.1" r="0.53"/><circle cx="72.8" cy="188.3" r="0.68"/><circle cx="33.7" cy="197.5" r="0.52"/><circle cx="16.9" cy="190.2" r="0.58"/><circle cx="5.6" cy="157.1" r="0.58"/><circle cx="23.6" cy="191.3" r="0.56"/><circle cx="20.1" cy="185.5" r="0.62"/><circle cx="52.6" cy="191.2" r="0.60"/><circle cx="5.3" cy="173.2" r="0.49"/><circle cx="16.3" cy="179.6" r="0.49"/><circle cx="27.9" cy="197.5" r="0.63"/><circle cx="71.5" cy="132.9" r="0.69"/><circle cx="4.8" cy="165.1" r="0.52"/><circle cx="32.9" cy="199.9" r="0.56"/><circle cx="45.5" cy="192.7" r="0.68"/><circle cx="18.3" cy="186.8" r="0.48"/><circle cx="7.3" cy="171.9" r="0.59"/><circle cx="47.5" cy="200.4" r="0.52"/><circle cx="71.6" cy="193.2" r="0.51"/><circle cx="38.1" cy="200.9" r="0.61"/><circle cx="75.5" cy="189.6" r="0.65"/><circle cx="18.5" cy="180.2" r="0.56"/><circle cx="31.4" cy="193.2" r="0.66"/><circle cx="7.2" cy="166.4" r="0.65"/><circle cx="57.1" cy="199.5" r="0.68"/><circle cx="17.6" cy="191.1" r="0.46"/><circle cx="3.0" cy="158.6" r="0.53"/><circle cx="14.7" cy="184.4" r="0.64"/><circle cx="61.6" cy="192.6" r="0.67"/><circle cx="35.3" cy="194.7" r="0.51"/><circle cx="37.0" cy="200.8" r="0.48"/><circle cx="64.2" cy="193.1" r="0.56"/><circle cx="64.6" cy="194.0" r="0.62"/><circle cx="33.9" cy="197.8" r="0.58"/><circle cx="27.1" cy="198.0" r="0.66"/><circle cx="17.9" cy="169.9" r="0.66"/><circle cx="29.0" cy="197.7" r="0.53"/><circle cx="5.2" cy="173.2" r="0.69"/><circle cx="33.3" cy="197.8" r="0.52"/><circle cx="10.7" cy="171.5" r="0.65"/><circle cx="8.1" cy="178.0" r="0.51"/><circle cx="33.4" cy="193.8" r="0.60"/><circle cx="14.6" cy="182.1" r="0.54"/><circle cx="48.8" cy="200.2" r="0.65"/><circle cx="11.6" cy="183.2" r="0.60"/><circle cx="73.8" cy="187.5" r="0.64"/><circle cx="12.1" cy="185.7" r="0.48"/><circle cx="32.7" cy="201.1" r="0.54"/><circle cx="16.8" cy="187.0" r="0.53"/><circle cx="84.4" cy="171.7" r="0.65"/><circle cx="44.4" cy="197.3" r="0.54"/><circle cx="46.6" cy="199.1" r="0.58"/><circle cx="50.5" cy="200.1" r="0.67"/><circle cx="19.0" cy="184.9" r="0.60"/><circle cx="12.8" cy="184.3" r="0.57"/><circle cx="5.1" cy="164.9" r="0.64"/><circle cx="3.9" cy="163.2" r="0.57"/><circle cx="33.4" cy="126.0" r="0.69"/><circle cx="53.6" cy="201.0" r="0.58"/><circle cx="24.0" cy="194.1" r="0.69"/><circle cx="64.0" cy="197.1" r="0.58"/><circle cx="24.6" cy="190.7" r="0.58"/><circle cx="14.3" cy="172.3" r="0.59"/><circle cx="72.5" cy="192.2" r="0.46"/><circle cx="56.9" cy="198.4" r="0.45"/><circle cx="25.4" cy="189.1" r="0.48"/><circle cx="48.0" cy="123.5" r="0.68"/><circle cx="42.6" cy="199.8" r="0.60"/><circle cx="43.0" cy="200.3" r="0.63"/><circle cx="3.5" cy="157.1" r="0.57"/><circle cx="53.0" cy="192.7" r="0.62"/><circle cx="42.6" cy="201.4" r="0.61"/><circle cx="15.1" cy="188.2" r="0.54"/><circle cx="67.7" cy="180.3" r="0.61"/><circle cx="30.1" cy="199.0" r="0.45"/><circle cx="17.6" cy="190.9" r="0.56"/><circle cx="24.3" cy="196.5" r="0.57"/><circle cx="48.0" cy="202.8" r="0.53"/><circle cx="8.4" cy="162.3" r="0.48"/><circle cx="45.1" cy="198.3" r="0.57"/><circle cx="28.1" cy="199.3" r="0.46"/><circle cx="54.3" cy="198.4" r="0.60"/><circle cx="16.6" cy="188.6" r="0.66"/><circle cx="60.4" cy="195.1" r="0.57"/><circle cx="41.3" cy="194.4" r="0.61"/><circle cx="59.4" cy="198.5" r="0.47"/><circle cx="48.7" cy="185.4" r="0.51"/><circle cx="7.0" cy="174.6" r="0.57"/><circle cx="25.6" cy="191.2" r="0.55"/><circle cx="6.8" cy="175.5" r="0.47"/><circle cx="7.9" cy="173.4" r="0.62"/><circle cx="12.8" cy="168.9" r="0.46"/><circle cx="24.8" cy="194.4" r="0.48"/><circle cx="5.6" cy="175.2" r="0.51"/><circle cx="29.4" cy="194.8" r="0.64"/><circle cx="22.5" cy="195.7" r="0.47"/><circle cx="71.7" cy="191.0" r="0.58"/><circle cx="19.6" cy="193.9" r="0.69"/><circle cx="68.3" cy="182.1" r="0.63"/><circle cx="21.7" cy="180.8" r="0.55"/><circle cx="22.0" cy="190.9" r="0.60"/><circle cx="84.0" cy="173.2" r="0.54"/><circle cx="52.1" cy="199.5" r="0.64"/><circle cx="35.4" cy="198.7" r="0.60"/><circle cx="60.9" cy="159.3" r="0.52"/><circle cx="12.0" cy="184.1" r="0.67"/><circle cx="35.5" cy="197.3" r="0.68"/><circle cx="54.2" cy="200.1" r="0.66"/><circle cx="20.7" cy="193.3" r="0.52"/><circle cx="20.4" cy="194.0" r="0.66"/><circle cx="9.6" cy="182.1" r="0.57"/><circle cx="30.4" cy="188.8" r="0.67"/><circle cx="56.2" cy="197.4" r="0.65"/><circle cx="13.0" cy="187.8" r="0.54"/><circle cx="24.8" cy="193.5" r="0.60"/><circle cx="10.1" cy="168.4" r="0.64"/><circle cx="69.3" cy="186.0" r="0.52"/><circle cx="14.5" cy="186.7" r="0.55"/><circle cx="43.5" cy="199.8" r="0.68"/><circle cx="71.6" cy="186.8" r="0.69"/><circle cx="36.3" cy="179.0" r="0.67"/><circle cx="39.2" cy="201.9" r="0.51"/><circle cx="85.3" cy="157.1" r="0.66"/><circle cx="32.8" cy="200.8" r="0.68"/><circle cx="29.9" cy="181.6" r="0.51"/><circle cx="37.8" cy="200.4" r="0.47"/><circle cx="31.4" cy="197.5" r="0.56"/><circle cx="41.5" cy="197.3" r="0.63"/><circle cx="81.5" cy="177.9" r="0.61"/><circle cx="27.7" cy="186.5" r="0.62"/><circle cx="76.1" cy="185.2" r="0.68"/><circle cx="22.7" cy="196.7" r="0.69"/><circle cx="27.9" cy="198.2" r="0.51"/><circle cx="11.7" cy="164.5" r="0.46"/><circle cx="23.1" cy="184.1" r="0.59"/><circle cx="42.8" cy="201.2" r="0.56"/><circle cx="48.7" cy="196.0" r="0.45"/><circle cx="3.7" cy="167.9" r="0.70"/><circle cx="65.9" cy="190.3" r="0.47"/><circle cx="63.7" cy="197.2" r="0.58"/><circle cx="45.1" cy="197.3" r="0.67"/><circle cx="74.9" cy="183.2" r="0.47"/><circle cx="31.7" cy="194.5" r="0.66"/><circle cx="29.3" cy="180.2" r="0.49"/><circle cx="24.8" cy="183.0" r="0.67"/><circle cx="4.7" cy="161.7" r="0.68"/><circle cx="6.0" cy="160.7" r="0.54"/><circle cx="50.4" cy="201.8" r="0.49"/><circle cx="21.1" cy="181.9" r="0.49"/><circle cx="72.6" cy="188.8" r="0.46"/><circle cx="14.0" cy="186.5" r="0.60"/><circle cx="64.5" cy="197.6" r="0.52"/><circle cx="47.9" cy="202.4" r="0.53"/><circle cx="25.5" cy="188.3" r="0.59"/><circle cx="37.1" cy="197.3" r="0.65"/><circle cx="86.0" cy="159.0" r="0.65"/><circle cx="6.9" cy="166.7" r="0.50"/><circle cx="84.6" cy="162.0" r="0.47"/><circle cx="4.4" cy="169.1" r="0.55"/><circle cx="38.6" cy="200.6" r="0.68"/><circle cx="32.7" cy="193.3" r="0.68"/><circle cx="26.2" cy="197.1" r="0.69"/><circle cx="34.1" cy="201.6" r="0.54"/><circle cx="11.5" cy="163.2" r="0.61"/><circle cx="10.0" cy="181.4" r="0.59"/><circle cx="40.7" cy="188.4" r="0.52"/><circle cx="64.2" cy="196.9" r="0.61"/><circle cx="74.3" cy="187.3" r="0.52"/><circle cx="41.4" cy="199.3" r="0.49"/><circle cx="33.5" cy="191.8" r="0.56"/><circle cx="44.9" cy="186.6" r="0.60"/><circle cx="30.9" cy="190.9" r="0.47"/><circle cx="41.5" cy="160.6" r="0.64"/><circle cx="9.5" cy="172.9" r="0.64"/><circle cx="25.7" cy="192.8" r="0.60"/><circle cx="83.0" cy="173.0" r="0.54"/><circle cx="40.6" cy="195.7" r="0.45"/><circle cx="38.3" cy="196.0" r="0.54"/><circle cx="18.6" cy="184.3" r="0.49"/><circle cx="18.9" cy="184.7" r="0.60"/><circle cx="42.5" cy="194.2" r="0.65"/><circle cx="40.0" cy="193.4" r="0.54"/><circle cx="13.5" cy="181.9" r="0.70"/><circle cx="4.6" cy="173.1" r="0.60"/><circle cx="22.4" cy="195.1" r="0.62"/><circle cx="57.6" cy="173.2" r="0.63"/><circle cx="54.5" cy="199.1" r="0.64"/><circle cx="56.1" cy="198.4" r="0.56"/><circle cx="65.9" cy="193.6" r="0.55"/><circle cx="10.9" cy="167.1" r="0.68"/><circle cx="28.3" cy="195.0" r="0.57"/><circle cx="45.7" cy="201.2" r="0.52"/><circle cx="20.8" cy="192.3" r="0.63"/><circle cx="37.8" cy="189.4" r="0.61"/><circle cx="25.9" cy="196.9" r="0.60"/><circle cx="17.3" cy="190.2" r="0.63"/><circle cx="8.4" cy="175.7" r="0.55"/><circle cx="8.4" cy="180.2" r="0.60"/><circle cx="25.2" cy="192.4" r="0.55"/><circle cx="29.0" cy="188.4" r="0.54"/><circle cx="70.5" cy="191.8" r="0.62"/><circle cx="64.4" cy="191.9" r="0.64"/><circle cx="29.1" cy="197.4" r="0.52"/><circle cx="76.4" cy="184.0" r="0.62"/><circle cx="81.1" cy="181.3" r="0.57"/><circle cx="26.8" cy="196.3" r="0.48"/><circle cx="6.8" cy="170.8" r="0.64"/><circle cx="59.2" cy="195.4" r="0.48"/><circle cx="20.3" cy="193.0" r="0.51"/><circle cx="41.1" cy="186.6" r="0.49"/><circle cx="25.5" cy="189.5" r="0.67"/><circle cx="18.0" cy="192.7" r="0.57"/><circle cx="8.8" cy="175.3" r="0.68"/><circle cx="3.5" cy="160.3" r="0.58"/><circle cx="27.4" cy="198.4" r="0.57"/><circle cx="58.8" cy="186.6" r="0.64"/><circle cx="70.0" cy="193.1" r="0.58"/><circle cx="66.2" cy="193.2" r="0.50"/><circle cx="43.2" cy="190.6" r="0.49"/><circle cx="4.1" cy="156.2" r="0.54"/><circle cx="12.2" cy="175.4" r="0.53"/><circle cx="40.4" cy="188.6" r="0.48"/><circle cx="12.5" cy="180.4" r="0.54"/><circle cx="42.1" cy="196.1" r="0.70"/><circle cx="27.4" cy="185.1" r="0.50"/><circle cx="14.5" cy="179.7" r="0.60"/><circle cx="22.2" cy="194.3" r="0.47"/><circle cx="8.2" cy="173.1" r="0.62"/><circle cx="51.7" cy="189.6" r="0.61"/></g>
</g>
<circle cx="44.8" cy="161.0" r="42.0" fill="none" stroke="#222" stroke-width="1.1"/>
<text x="11.8" y="98.2" font-size="9.3" fill="#262626" text-anchor="start" >Anti-perturbation</text>
<text x="7.4" y="108.3" font-size="9" fill="#262626"><tspan fill="#6b6bf0">regions</tspan> in input SoP</text>
<text x="27.0" y="218.3" font-size="8.5" fill="#262626" text-anchor="start" >SkyN</text>
<text x="56.5" y="218.3" font-size="8.5" fill="#262626" text-anchor="start" >0</text>
<text x="20.6" y="233.0" font-size="8.5" fill="#262626" text-anchor="start" >GSkyN</text>
<text x="52.5" y="233.0" font-size="8.5" fill="#262626">(<tspan fill="#5aaa32">0</tspan>)</text>
<defs><linearGradient id="gb" gradientUnits="userSpaceOnUse" x1="58" y1="130" x2="140" y2="135"><stop offset="0" stop-color="#c47a22" stop-opacity="0.35"/><stop offset="1" stop-color="#c47a22" stop-opacity="1.0"/></linearGradient></defs>
<defs><linearGradient id="gg" gradientUnits="userSpaceOnUse" x1="71" y1="167" x2="127" y2="157"><stop offset="0" stop-color="#2db82d" stop-opacity="0.45"/><stop offset="1" stop-color="#2db82d" stop-opacity="1.0"/></linearGradient></defs>
<defs><linearGradient id="gr" gradientUnits="userSpaceOnUse" x1="74" y1="191" x2="134" y2="170"><stop offset="0" stop-color="#f07070" stop-opacity="0.35"/><stop offset="1" stop-color="#f07070" stop-opacity="1.0"/></linearGradient></defs>
<defs><linearGradient id="gb2" gradientUnits="userSpaceOnUse" x1="172" y1="129" x2="220" y2="82"><stop offset="0" stop-color="#c47a22" stop-opacity="0.3"/><stop offset="1" stop-color="#c47a22" stop-opacity="1.0"/></linearGradient></defs>
<defs><linearGradient id="gg2" gradientUnits="userSpaceOnUse" x1="181" y1="178" x2="231" y2="229"><stop offset="0" stop-color="#2db82d" stop-opacity="0.3"/><stop offset="1" stop-color="#2db82d" stop-opacity="1.0"/></linearGradient></defs>
<defs><linearGradient id="gr2" gradientUnits="userSpaceOnUse" x1="191" y1="158" x2="222" y2="158"><stop offset="0" stop-color="#f06a6a" stop-opacity="0.5"/><stop offset="1" stop-color="#f06a6a" stop-opacity="1.0"/></linearGradient></defs>
<path d="M58,130 C80,118 118,116 140,135.5" fill="none" stroke="url(#gb)" stroke-width="1.1"/>
<polygon points="144.50,139.00 138.90,137.89 142.44,133.68" fill="#c47a22"/>
<path d="M71.5,167 C90,160 110,157 127,156.8" fill="none" stroke="url(#gg)" stroke-width="1.1"/>
<polygon points="132.20,156.70 127.20,159.45 127.20,153.95" fill="#2db82d"/>
<path d="M74.5,191.4 C95,192 118,185 134,169.5" fill="none" stroke="url(#gr)" stroke-width="1.0"/>
<polygon points="138.20,165.40 136.61,170.88 132.72,166.99" fill="#f07070"/>
<circle cx="162.2" cy="157.6" r="20.8" fill="#a2a2a2"/>
<ellipse cx="163.6" cy="157.6" rx="19.2" ry="20.7" fill="#c8c8c8"/>
<text x="163.2" y="158.2" font-size="7.8" fill="#222" text-anchor="middle" >Structured</text>
<text x="163.2" y="166.0" font-size="7.8" fill="#222" text-anchor="middle" >matter</text>
<text x="161.6" y="189.6" font-size="8.6" fill="#262626" text-anchor="middle" >Same</text>
<text x="161.6" y="199.6" font-size="9" fill="#262626" text-anchor="middle" >matter</text>
<path d="M172.6,129 C176,110 192,86 219,82.5" fill="none" stroke="url(#gb2)" stroke-width="1.2"/>
<polygon points="225.00,81.80 220.20,84.89 219.82,79.41" fill="#c47a22"/>
<text x="165.3" y="94.5" font-size="8.8" fill="#c98a3c" text-anchor="start" >Adder</text>
<path d="M191.3,158.4 L222.5,158.4" fill="none" stroke="url(#gr2)" stroke-width="1.1"/>
<polygon points="228.00,158.40 222.50,161.43 222.50,155.38" fill="#f06a6a"/>
<text x="187.3" y="150.9" font-size="9.2" fill="#f06a6a" text-anchor="start" >Subtractor</text>
<path d="M181.3,178 C185,205 205,222 231,229" fill="none" stroke="url(#gg2)" stroke-width="1.2"/>
<polygon points="236.50,230.40 230.98,231.86 232.31,226.52" fill="#2db82d"/>
<text x="179.3" y="229.8" font-size="9" fill="#3aae3a" text-anchor="middle" >Adder and</text>
<text x="179.3" y="239.6" font-size="9" fill="#3aae3a" text-anchor="middle" >subtractor</text>
<text x="180.2" y="250.0" font-size="9.1" fill="#3aae3a" text-anchor="middle" >simultaneously</text>
<text x="374" y="9.3" font-size="9.2" fill="#262626">Disorder in <tspan fill="#6b6bf0">matter</tspan> including <tspan fill="#6b6bf0">boundary</tspan></text>
<line x1="374" y1="14.6" x2="407" y2="14.6" stroke="#a6c9ee" stroke-width="0.85"/>
<line x1="374" y1="17.0" x2="407" y2="17.0" stroke="#a6c9ee" stroke-width="0.85"/>
<line x1="374" y1="19.4" x2="407" y2="19.4" stroke="#a6c9ee" stroke-width="0.85"/>
<line x1="374" y1="21.9" x2="407" y2="21.9" stroke="#a6c9ee" stroke-width="0.85"/>
<line x1="374" y1="24.4" x2="407" y2="24.4" stroke="#a6c9ee" stroke-width="0.85"/>
<line x1="374" y1="26.8" x2="407" y2="26.8" stroke="#a6c9ee" stroke-width="0.85"/>
<line x1="374" y1="29.2" x2="407" y2="29.2" stroke="#a6c9ee" stroke-width="0.85"/>
<line x1="374" y1="31.3" x2="407" y2="31.3" stroke="#a6c9ee" stroke-width="0.85"/>
<line x1="373.6" y1="13.1" x2="373.6" y2="32.4" stroke="#111" stroke-width="1.3"/>
<line x1="384.0" y1="13.1" x2="384.0" y2="32.4" stroke="#111" stroke-width="1.3"/>
<line x1="395.7" y1="13.1" x2="395.7" y2="32.4" stroke="#111" stroke-width="2.0"/>
<line x1="407.3" y1="13.1" x2="407.3" y2="32.4" stroke="#111" stroke-width="1.3"/>
<text x="418.7" y="26.7" font-size="8.6" fill="#262626" text-anchor="start" >Low</text>
<line x1="440.5" y1="23.1" x2="507.5" y2="23.1" stroke="#c4c4c4" stroke-width="1"/>
<circle cx="440.5" cy="23.1" r="2.1" fill="#c4c4c4"/>
<path d="M505,20.8 L508.6,23.1 L505,25.4" fill="none" stroke="#c4c4c4" stroke-width="0.9"/>
<polygon points="457.40,16.80 459.22,20.89 463.68,21.36 460.35,24.36 461.28,28.74 457.40,26.50 453.52,28.74 454.45,24.36 451.12,21.36 455.58,20.89" fill="#8fa3f6"/>
<polygon points="475.50,16.80 477.32,20.89 481.78,21.36 478.45,24.36 479.38,28.74 475.50,26.50 471.62,28.74 472.55,24.36 469.22,21.36 473.68,20.89" fill="#4f82f0"/>
<polygon points="492.80,16.80 494.62,20.89 499.08,21.36 495.75,24.36 496.68,28.74 492.80,26.50 488.92,28.74 489.85,24.36 486.52,21.36 490.98,20.89" fill="#2121ee"/>
<text x="511.8" y="26.7" font-size="8.8" fill="#262626" text-anchor="start" >High</text>
<text x="259.3" y="34.0" font-size="9.4" fill="#262626" text-anchor="start" >Output</text>
<text transform="translate(672.2,99) rotate(90)" font-size="9.2" fill="#262626">Disorder in <tspan fill="#6b6bf0">field</tspan> and <tspan fill="#6b6bf0">boundary</tspan></text>
<defs>
<filter id="nz" x="0" y="0" width="1" height="1" color-interpolation-filters="sRGB">
<feTurbulence type="fractalNoise" baseFrequency="1.5" numOctaves="1" seed="5" result="t"/>
<feComponentTransfer><feFuncR type="linear" slope="2.2" intercept="-0.28"/><feFuncG type="linear" slope="2.2" intercept="-0.22"/><feFuncB type="linear" slope="2.2" intercept="-0.28"/><feFuncA type="linear" slope="0" intercept="1"/></feComponentTransfer><feColorMatrix type="saturate" values="0.8"/>
</filter>
<linearGradient id="hband" x1="0" y1="0" x2="0" y2="1"><stop offset="0.22" stop-color="#fff" stop-opacity="0"/><stop offset="0.5" stop-color="#fff" stop-opacity="1"/><stop offset="0.78" stop-color="#fff" stop-opacity="0"/></linearGradient>
<linearGradient id="vband" x1="0" y1="0" x2="1" y2="0"><stop offset="0.25" stop-color="#fff" stop-opacity="0"/><stop offset="0.5" stop-color="#fff" stop-opacity="0.8"/><stop offset="0.75" stop-color="#fff" stop-opacity="0"/></linearGradient>
<linearGradient id="vband2" x1="0" y1="0" x2="1" y2="0"><stop offset="0.3" stop-color="#fff" stop-opacity="0.25"/><stop offset="0.5" stop-color="#fff" stop-opacity="0.9"/><stop offset="0.7" stop-color="#fff" stop-opacity="0.25"/></linearGradient>
</defs>
<defs><mask id="nm01" maskUnits="userSpaceOnUse" x="400.7" y="50.8" width="42" height="42"><rect x="400.7" y="50.8" width="42" height="42" fill="url(#hband)" opacity="0.75"/><rect x="400.7" y="50.8" width="42" height="42" fill="url(#vband)" opacity="0.55"/></mask><clipPath id="cnm01"><circle cx="421.7" cy="71.8" r="21"/></clipPath></defs>
<g clip-path="url(#cnm01)" mask="url(#nm01)"><rect x="400.7" y="50.8" width="42" height="42" fill="#b4c8a8" opacity="0.45"/><rect x="400.7" y="50.8" width="42" height="42" filter="url(#nz)" opacity="0.8"/></g>
<defs><mask id="nm02" maskUnits="userSpaceOnUse" x="549.2" y="50.5" width="42" height="42"><rect x="549.2" y="50.5" width="42" height="42" fill="url(#hband)" opacity="0.65"/><rect x="549.2" y="50.5" width="42" height="42" fill="url(#vband)" opacity="0.45"/></mask><clipPath id="cnm02"><circle cx="570.2" cy="71.5" r="21"/></clipPath></defs>
<g clip-path="url(#cnm02)" mask="url(#nm02)"><rect x="549.2" y="50.5" width="42" height="42" fill="#b4c8a8" opacity="0.45"/><rect x="549.2" y="50.5" width="42" height="42" filter="url(#nz)" opacity="0.8"/></g>
<defs><mask id="nm11" maskUnits="userSpaceOnUse" x="400.7" y="135.5" width="42" height="42"><rect x="400.7" y="135.5" width="42" height="42" fill="url(#hband)" opacity="0.75"/><rect x="400.7" y="135.5" width="42" height="42" fill="url(#vband)" opacity="0.55"/></mask><clipPath id="cnm11"><circle cx="421.7" cy="156.5" r="21"/></clipPath></defs>
<g clip-path="url(#cnm11)" mask="url(#nm11)"><rect x="400.7" y="135.5" width="42" height="42" fill="#b4c8a8" opacity="0.45"/><rect x="400.7" y="135.5" width="42" height="42" filter="url(#nz)" opacity="0.8"/></g>
<defs><mask id="nm12" maskUnits="userSpaceOnUse" x="549.3" y="135.4" width="42" height="42"><rect x="549.3" y="135.4" width="42" height="42" fill="url(#hband)" opacity="0.65"/><rect x="549.3" y="135.4" width="42" height="42" fill="url(#vband)" opacity="0.45"/></mask><clipPath id="cnm12"><circle cx="570.3" cy="156.4" r="21"/></clipPath></defs>
<g clip-path="url(#cnm12)" mask="url(#nm12)"><rect x="549.3" y="135.4" width="42" height="42" fill="#b4c8a8" opacity="0.45"/><rect x="549.3" y="135.4" width="42" height="42" filter="url(#nz)" opacity="0.8"/></g>
<defs><mask id="nm21" maskUnits="userSpaceOnUse" x="400.7" y="223.6" width="42" height="42"><rect x="400.7" y="223.6" width="42" height="42" fill="url(#vband2)" opacity="0.42"/><rect x="400.7" y="223.6" width="42" height="42" fill="url(#hband)" opacity="0.35"/></mask><clipPath id="cnm21"><circle cx="421.7" cy="244.6" r="21"/></clipPath></defs>
<g clip-path="url(#cnm21)" mask="url(#nm21)"><rect x="400.7" y="223.6" width="42" height="42" fill="#e8a098" opacity="0.45"/><rect x="400.7" y="223.6" width="42" height="42" filter="url(#nz)" opacity="0.8"/></g>
<defs><mask id="nm22" maskUnits="userSpaceOnUse" x="549.6" y="223.6" width="42" height="42"><rect x="549.6" y="223.6" width="42" height="42" fill="url(#vband2)" opacity="0.42"/><rect x="549.6" y="223.6" width="42" height="42" fill="url(#hband)" opacity="0.35"/></mask><clipPath id="cnm22"><circle cx="570.6" cy="244.6" r="21"/></clipPath></defs>
<g clip-path="url(#cnm22)" mask="url(#nm22)"><rect x="549.6" y="223.6" width="42" height="42" fill="#e8a098" opacity="0.45"/><rect x="549.6" y="223.6" width="42" height="42" filter="url(#nz)" opacity="0.8"/></g>
<circle cx="274.0" cy="71.4" r="21" fill="none" stroke="#2b7bbd" stroke-width="1.3"/>
<polygon points="294.40,66.20 297.90,71.20 294.40,71.20" fill="#2b7bbd"/>
<polygon points="272.90,40.30 274.12,43.03 277.08,43.34 274.87,45.34 275.49,48.26 272.90,46.77 270.31,48.26 270.93,45.34 268.72,43.34 271.68,43.03" fill="#8fa3f6"/>
<circle cx="421.7" cy="71.8" r="21" fill="none" stroke="#2b7bbd" stroke-width="1.3"/>
<polygon points="442.10,66.60 445.60,71.60 442.10,71.60" fill="#2b7bbd"/>
<polygon points="421.90,40.30 423.12,43.03 426.08,43.34 423.87,45.34 424.49,48.26 421.90,46.77 419.31,48.26 419.93,45.34 417.72,43.34 420.68,43.03" fill="#4f82f0"/>
<circle cx="570.2" cy="71.5" r="21" fill="none" stroke="#2b7bbd" stroke-width="1.3"/>
<polygon points="590.60,66.30 594.10,71.30 590.60,71.30" fill="#2b7bbd"/>
<polygon points="570.80,40.30 572.02,43.03 574.98,43.34 572.77,45.34 573.39,48.26 570.80,46.77 568.21,48.26 568.83,45.34 566.62,43.34 569.58,43.03" fill="#2121ee"/>
<circle cx="273.3" cy="156.1" r="21" fill="none" stroke="#2b7bbd" stroke-width="1.3"/>
<polygon points="293.70,150.90 297.20,155.90 293.70,155.90" fill="#2b7bbd"/>
<polygon points="272.20,124.60 273.42,127.33 276.38,127.64 274.17,129.64 274.79,132.56 272.20,131.07 269.61,132.56 270.23,129.64 268.02,127.64 270.98,127.33" fill="#8fa3f6"/>
<circle cx="421.7" cy="156.5" r="21" fill="none" stroke="#2b7bbd" stroke-width="1.3"/>
<polygon points="442.10,151.30 445.60,156.30 442.10,156.30" fill="#2b7bbd"/>
<polygon points="421.90,124.60 423.12,127.33 426.08,127.64 423.87,129.64 424.49,132.56 421.90,131.07 419.31,132.56 419.93,129.64 417.72,127.64 420.68,127.33" fill="#4f82f0"/>
<circle cx="570.3" cy="156.4" r="21" fill="none" stroke="#2b7bbd" stroke-width="1.3"/>
<polygon points="590.70,151.20 594.20,156.20 590.70,156.20" fill="#2b7bbd"/>
<polygon points="570.90,124.60 572.12,127.33 575.08,127.64 572.87,129.64 573.49,132.56 570.90,131.07 568.31,132.56 568.93,129.64 566.72,127.64 569.68,127.33" fill="#2121ee"/>
<circle cx="274.6" cy="244.3" r="21" fill="none" stroke="#2b7bbd" stroke-width="1.3"/>
<polygon points="295.00,239.10 298.50,244.10 295.00,244.10" fill="#2b7bbd"/>
<polygon points="273.50,213.10 274.72,215.83 277.68,216.14 275.47,218.14 276.09,221.06 273.50,219.57 270.91,221.06 271.53,218.14 269.32,216.14 272.28,215.83" fill="#8fa3f6"/>
<circle cx="421.7" cy="244.6" r="21" fill="none" stroke="#2b7bbd" stroke-width="1.3"/>
<polygon points="442.10,239.40 445.60,244.40 442.10,244.40" fill="#2b7bbd"/>
<polygon points="421.90,213.10 423.12,215.83 426.08,216.14 423.87,218.14 424.49,221.06 421.90,219.57 419.31,221.06 419.93,218.14 417.72,216.14 420.68,215.83" fill="#4f82f0"/>
<circle cx="570.6" cy="244.6" r="21" fill="none" stroke="#2b7bbd" stroke-width="1.3"/>
<polygon points="591.00,239.40 594.50,244.40 591.00,244.40" fill="#2b7bbd"/>
<polygon points="571.20,213.10 572.42,215.83 575.38,216.14 573.17,218.14 573.79,221.06 571.20,219.57 568.61,221.06 569.23,218.14 567.02,216.14 569.98,215.83" fill="#2121ee"/>
<text x="273.2" y="106.1" font-size="9.5" fill="#444" text-anchor="middle">(<tspan fill="#c98a3c">0.99</tspan>, <tspan fill="#5aaa32">0</tspan>)</text>
<text x="421.5" y="106.1" font-size="9.5" fill="#444" text-anchor="middle">(<tspan fill="#c98a3c">0.99</tspan>, <tspan fill="#5aaa32">0</tspan>)</text>
<text x="570.4" y="106.2" font-size="9.5" fill="#444" text-anchor="middle">(<tspan fill="#c98a3c">1.00</tspan>, <tspan fill="#5aaa32">0</tspan>)</text>
<text x="273.3" y="193.3" font-size="9.5" fill="#444" text-anchor="middle">(<tspan fill="#f26b6b">−1.00</tspan>, <tspan fill="#5aaa32">0</tspan>)</text>
<text x="421.7" y="193.3" font-size="9.5" fill="#444" text-anchor="middle">(<tspan fill="#f26b6b">−1.00</tspan>, <tspan fill="#5aaa32">0</tspan>)</text>
<text x="570.3" y="193.3" font-size="9.5" fill="#444" text-anchor="middle">(<tspan fill="#f26b6b">−1.00</tspan>, <tspan fill="#5aaa32">0</tspan>)</text>
<text x="273.6" y="280.0" font-size="9.1" fill="#444" text-anchor="middle">(<tspan fill="#c98a3c">1.00</tspan>, <tspan fill="#f26b6b">−1.00</tspan>, <tspan fill="#5aaa32">0</tspan>)</text>
<text x="421.7" y="280.0" font-size="9.1" fill="#444" text-anchor="middle">(<tspan fill="#c98a3c">0.99</tspan>, <tspan fill="#f26b6b">−0.99</tspan>, <tspan fill="#5aaa32">0</tspan>)</text>
<text x="570.6" y="280.0" font-size="9.1" fill="#444" text-anchor="middle">(<tspan fill="#c98a3c">0.99</tspan>, <tspan fill="#f26b6b">−0.99</tspan>, <tspan fill="#5aaa32">0</tspan>)</text>
<circle cx="336.1" cy="72.1" r="31" fill="none" stroke="#2a2a2a" stroke-width="0.95"/>
<circle cx="484.1" cy="72.3" r="31" fill="none" stroke="#2a2a2a" stroke-width="0.95"/>
<circle cx="633.3" cy="72.3" r="31" fill="none" stroke="#2a2a2a" stroke-width="0.95"/>
<circle cx="336.4" cy="157.4" r="31" fill="none" stroke="#2a2a2a" stroke-width="0.95"/>
<circle cx="484.5" cy="157.2" r="31" fill="none" stroke="#2a2a2a" stroke-width="0.95"/>
<circle cx="633.9" cy="157.2" r="31" fill="none" stroke="#2a2a2a" stroke-width="0.95"/>
<circle cx="335.3" cy="245.5" r="31" fill="none" stroke="#2a2a2a" stroke-width="0.95"/>
<circle cx="485.1" cy="246.1" r="31" fill="none" stroke="#2a2a2a" stroke-width="0.95"/>
<circle cx="634.1" cy="246.1" r="31" fill="none" stroke="#2a2a2a" stroke-width="0.95"/>
<path d="M349.20,58.60 C348.82,59.12 347.82,61.05 346.90,61.70 C345.98,62.35 344.48,62.63 343.70,62.50 C342.92,62.37 343.23,60.72 342.20,60.90 C341.17,61.08 339.08,62.68 337.50,63.60 C335.92,64.52 334.42,65.53 332.70,66.40 C330.98,67.27 328.23,68.87 327.20,68.80 C326.17,68.73 327.02,66.53 326.50,66.00 C325.98,65.47 325.28,65.40 324.10,65.60 C322.92,65.80 319.93,65.48 319.40,67.20 C318.87,68.92 320.22,73.35 320.90,75.90 C321.58,78.45 322.72,80.53 323.50,82.50 C324.28,84.47 324.72,86.45 325.60,87.70 C326.48,88.95 327.48,90.13 328.80,90.00 C330.12,89.87 332.07,87.28 333.50,86.90 C334.93,86.52 336.22,87.18 337.40,87.70 C338.58,88.22 339.28,90.13 340.60,90.00 C341.92,89.87 343.87,88.47 345.30,86.90 C346.73,85.33 348.15,83.22 349.20,80.60 C350.25,77.98 351.47,74.13 351.60,71.20 C351.73,68.27 350.30,64.95 350.00,63.00 C349.70,61.05 349.83,60.08 349.80,59.50" fill="none" stroke="#2b7bbd" stroke-width="1.7" stroke-linejoin="round" stroke-linecap="round"/>
<polygon points="326.20,88.20 321.49,85.88 325.63,82.98" fill="#2b7bbd"/>
<path d="M498.50,54.70 C497.45,54.95 494.03,55.03 492.20,56.20 C490.37,57.37 489.08,59.87 487.50,61.70 C485.92,63.53 484.55,66.02 482.70,67.20 C480.85,68.38 478.75,68.27 476.40,68.80 C474.05,69.33 470.17,69.75 468.60,70.40 C467.03,71.05 467.00,71.53 467.00,72.70 C467.00,73.87 467.68,75.82 468.60,77.40 C469.52,78.98 472.23,81.15 472.50,82.20 C472.77,83.25 471.63,84.23 470.20,83.70 C468.77,83.17 465.73,80.43 463.90,79.00 C462.07,77.57 460.12,75.10 459.20,75.10 C458.28,75.10 458.15,77.03 458.40,79.00 C458.65,80.97 459.65,84.93 460.70,86.90 C461.75,88.87 462.87,89.37 464.70,90.80 C466.53,92.23 469.22,94.58 471.70,95.50 C474.18,96.42 477.23,96.68 479.60,96.30 C481.97,95.92 484.33,94.50 485.90,93.20 C487.47,91.90 487.17,90.33 489.00,88.50 C490.83,86.67 495.07,84.57 496.90,82.20 C498.73,79.83 499.62,76.93 500.00,74.30 C500.38,71.67 499.72,68.62 499.20,66.40 C498.68,64.18 497.42,62.30 496.90,61.00 C496.38,59.70 495.83,59.65 496.10,58.60 C496.37,57.55 498.10,55.35 498.50,54.70" fill="none" stroke="#2b7bbd" stroke-width="1.7" stroke-linejoin="round" stroke-linecap="round"/>
<polygon points="465.80,92.20 460.76,90.74 464.34,87.16" fill="#2b7bbd"/>
<polygon points="495.60,60.20 500.82,60.77 497.92,64.91" fill="#2b7bbd"/>
<path d="M614.70,64.90 C614.82,66.20 614.88,69.82 615.40,72.70 C615.92,75.58 616.62,79.18 617.80,82.20 C618.98,85.22 620.27,88.32 622.50,90.80 C624.73,93.28 628.18,96.18 631.20,97.10 C634.22,98.02 637.60,97.22 640.60,96.30 C643.60,95.38 647.05,93.03 649.20,91.60 C651.35,90.17 653.88,88.10 653.50,87.70 C653.12,87.30 649.05,88.68 646.90,89.20 C644.75,89.72 641.78,90.92 640.60,90.80 C639.42,90.68 639.02,89.80 639.80,88.50 C640.58,87.20 643.73,85.10 645.30,83.00 C646.87,80.90 648.55,78.40 649.20,75.90 C649.85,73.40 649.72,70.82 649.20,68.00 C648.68,65.18 647.20,61.43 646.10,59.00 C645.00,56.57 644.12,54.57 642.60,53.40 C641.08,52.23 638.62,51.90 637.00,52.00 C635.38,52.10 633.87,52.83 632.90,54.00 C631.93,55.17 631.62,57.07 631.20,59.00 C630.78,60.93 631.20,64.37 630.40,65.60 C629.60,66.83 628.90,66.52 626.40,66.40 C623.90,66.28 617.23,65.15 615.40,64.90" fill="none" stroke="#2b7bbd" stroke-width="1.7" stroke-linejoin="round" stroke-linecap="round"/>
<polygon points="615.50,75.20 613.13,70.51 618.19,70.69" fill="#2b7bbd"/>
<polygon points="646.60,61.00 642.77,57.41 647.58,55.84" fill="#2b7bbd"/>
<polygon points="653.50,87.70 650.78,92.19 648.25,87.81" fill="#2b7bbd"/>
<path d="M335.10,177.10 C335.02,176.42 334.82,173.18 334.60,173.00 C334.38,172.82 334.07,176.33 333.80,176.00 C333.53,175.67 333.27,171.33 333.00,171.00 C332.73,170.67 332.50,174.07 332.20,174.00 C331.90,173.93 332.17,171.13 331.20,170.60 C330.23,170.07 328.23,171.42 326.40,170.80 C324.57,170.18 321.90,169.12 320.20,166.90 C318.50,164.68 316.60,160.65 316.20,157.50 C315.80,154.35 316.35,150.63 317.80,148.00 C319.25,145.37 322.42,143.00 324.90,141.70 C327.38,140.40 330.62,140.32 332.70,140.20 C334.78,140.08 335.82,141.22 337.40,141.00 C338.98,140.78 340.75,139.03 342.20,138.90 C343.65,138.77 345.18,138.95 346.10,140.20 C347.02,141.45 346.92,144.32 347.70,146.40 C348.48,148.48 350.42,150.60 350.80,152.70 C351.18,154.80 350.92,157.42 350.00,159.00 C349.08,160.58 345.82,161.42 345.30,162.20 C344.78,162.98 346.25,162.65 346.90,163.70 C347.55,164.75 349.07,166.92 349.20,168.50 C349.33,170.08 349.13,172.03 347.70,173.20 C346.27,174.37 342.70,174.85 340.60,175.50 C338.50,176.15 336.02,176.83 335.10,177.10" fill="none" stroke="#2b7bbd" stroke-width="1.7" stroke-linejoin="round" stroke-linecap="round"/>
<polygon points="345.80,174.00 342.21,177.83 340.64,173.02" fill="#2b7bbd"/>
<path d="M474.10,159.00 C473.97,160.05 472.92,163.20 473.30,165.30 C473.68,167.40 475.75,170.15 476.40,171.60 C477.05,173.05 475.88,173.22 477.20,174.00 C478.52,174.78 481.93,176.05 484.30,176.30 C486.67,176.55 489.03,176.15 491.40,175.50 C493.77,174.85 496.80,173.57 498.50,172.40 C500.20,171.23 501.22,170.07 501.60,168.50 C501.98,166.93 501.58,164.58 500.80,163.00 C500.02,161.42 498.60,160.05 496.90,159.00 C495.20,157.95 490.83,156.93 490.60,156.70 C490.37,156.47 494.07,157.60 495.50,157.60 C496.93,157.60 498.32,157.63 499.20,156.70 C500.08,155.77 500.92,153.32 500.80,152.00 C500.68,150.68 499.68,149.33 498.50,148.80 C497.32,148.27 495.28,148.27 493.70,148.80 C492.12,149.33 490.70,150.62 489.00,152.00 C487.30,153.38 483.88,157.63 483.50,157.10 C483.12,156.57 485.65,151.62 486.70,148.80 C487.75,145.98 490.20,141.77 489.80,140.20 C489.40,138.63 486.53,139.40 484.30,139.40 C482.07,139.40 478.88,139.28 476.40,140.20 C473.92,141.12 471.23,142.82 469.40,144.90 C467.57,146.98 465.93,149.82 465.40,152.70 C464.87,155.58 465.28,159.45 466.20,162.20 C467.12,164.95 469.20,167.37 470.90,169.20 C472.60,171.03 475.48,172.53 476.40,173.20" fill="none" stroke="#2b7bbd" stroke-width="1.7" stroke-linejoin="round" stroke-linecap="round"/>
<polygon points="492.50,175.30 488.14,178.22 487.70,173.18" fill="#2b7bbd"/>
<path d="M635.10,140.90 C634.70,140.85 634.15,140.33 632.70,140.60 C631.25,140.87 628.37,141.27 626.40,142.50 C624.43,143.73 622.07,145.77 620.90,148.00 C619.73,150.23 619.40,153.28 619.40,155.90 C619.40,158.52 619.98,161.22 620.90,163.70 C621.82,166.18 623.58,169.02 624.90,170.80 C626.22,172.58 626.97,173.62 628.80,174.40 C630.63,175.18 633.67,175.57 635.90,175.50 C638.13,175.43 640.23,174.92 642.20,174.00 C644.17,173.08 646.78,171.58 647.70,170.00 C648.62,168.42 648.10,165.93 647.70,164.50 C647.30,163.07 646.22,162.18 645.30,161.40 C644.38,160.62 642.20,160.45 642.20,159.80 C642.20,159.15 645.30,158.42 645.30,157.50 C645.30,156.58 643.50,155.88 642.20,154.30 C640.90,152.72 638.68,149.97 637.50,148.00 C636.32,146.03 635.50,143.42 635.10,142.50" fill="none" stroke="#2b7bbd" stroke-width="1.7" stroke-linejoin="round" stroke-linecap="round"/>
<polygon points="647.00,170.40 644.68,175.11 641.78,170.97" fill="#2b7bbd"/>
<path d="M328.80,251.90 C329.20,252.42 329.75,253.95 331.20,255.00 C332.65,256.05 335.42,257.72 337.50,258.20 C339.58,258.68 342.00,258.43 343.70,257.90 C345.40,257.37 346.65,255.62 347.70,255.00 C348.75,254.38 349.48,253.67 350.00,254.20 C350.52,254.73 350.02,257.28 350.80,258.20 C351.58,259.12 353.25,259.83 354.70,259.70 C356.15,259.57 358.18,258.70 359.50,257.40 C360.82,256.10 362.13,253.87 362.60,251.90 C363.07,249.93 362.57,247.57 362.30,245.60 C362.03,243.63 361.60,240.50 361.00,240.10 C360.40,239.70 359.35,242.42 358.70,243.20 C358.05,243.98 357.77,244.62 357.10,244.80 C356.43,244.98 355.48,243.65 354.70,244.30 C353.92,244.95 353.32,247.30 352.40,248.70 C351.48,250.10 350.38,252.30 349.20,252.70 C348.02,253.10 346.73,251.10 345.30,251.10 C343.87,251.10 342.43,252.30 340.60,252.70 C338.77,253.10 336.27,253.63 334.30,253.50 C332.33,253.37 329.72,252.17 328.80,251.90" fill="none" stroke="#2b7bbd" stroke-width="1.7" stroke-linejoin="round" stroke-linecap="round"/>
<polygon points="327.00,252.20 331.97,250.51 331.09,255.49" fill="#2b7bbd"/>
<polygon points="362.00,252.50 359.88,247.70 364.92,248.14" fill="#2b7bbd"/>
<path d="M476.40,253.50 C476.80,253.88 477.22,255.02 478.80,255.80 C480.38,256.58 483.67,258.07 485.90,258.20 C488.13,258.33 490.63,257.38 492.20,256.60 C493.77,255.82 494.25,253.63 495.30,253.50 C496.35,253.37 497.18,255.15 498.50,255.80 C499.82,256.45 501.90,257.40 503.20,257.40 C504.50,257.40 505.25,256.85 506.30,255.80 C507.35,254.75 508.58,252.80 509.50,251.10 C510.42,249.40 511.55,247.03 511.80,245.60 C512.05,244.17 511.65,242.50 511.00,242.50 C510.35,242.50 508.82,244.43 507.90,245.60 C506.98,246.77 506.55,248.07 505.50,249.50 C504.45,250.93 503.03,253.42 501.60,254.20 C500.17,254.98 498.08,254.72 496.90,254.20 C495.72,253.68 495.68,251.35 494.50,251.10 C493.32,250.85 491.50,252.05 489.80,252.70 C488.10,253.35 486.53,254.87 484.30,255.00 C482.07,255.13 477.72,253.75 476.40,253.50" fill="none" stroke="#2b7bbd" stroke-width="1.7" stroke-linejoin="round" stroke-linecap="round"/>
<polygon points="474.20,252.60 479.17,250.91 478.29,255.89" fill="#2b7bbd"/>
<polygon points="512.50,249.50 510.38,244.70 515.42,245.14" fill="#2b7bbd"/>
<path d="M620.20,247.20 C620.20,247.98 619.42,250.47 620.20,251.90 C620.98,253.33 622.82,254.80 624.90,255.80 C626.98,256.80 630.08,257.72 632.70,257.90 C635.32,258.08 638.23,257.52 640.60,256.90 C642.97,256.28 645.07,255.57 646.90,254.20 C648.73,252.83 650.17,250.92 651.60,248.70 C653.03,246.48 654.45,243.38 655.50,240.90 C656.55,238.42 657.10,234.58 657.90,233.80 C658.70,233.02 659.52,234.75 660.30,236.20 C661.08,237.65 662.08,240.42 662.60,242.50 C663.12,244.58 663.53,246.35 663.40,248.70 C663.27,251.05 662.72,254.77 661.80,256.60 C660.88,258.43 659.33,259.23 657.90,259.70 C656.47,260.17 654.77,259.78 653.20,259.40 C651.63,259.02 649.95,258.38 648.50,257.40 C647.05,256.42 645.82,254.55 644.50,253.50 C643.18,252.45 641.90,251.42 640.60,251.10 C639.30,250.78 637.62,251.08 636.70,251.60 C635.78,252.12 635.88,254.15 635.10,254.20 C634.32,254.25 633.45,252.82 632.00,251.90 C630.55,250.98 628.37,249.48 626.40,248.70 C624.43,247.92 621.23,247.45 620.20,247.20" fill="none" stroke="#2b7bbd" stroke-width="1.7" stroke-linejoin="round" stroke-linecap="round"/>
<polygon points="619.00,246.80 624.19,246.00 622.46,250.75" fill="#2b7bbd"/>
<polygon points="662.50,243.50 659.21,239.41 664.19,238.53" fill="#2b7bbd"/>
<path d="M621.8,160.5 Q623.3,166.5 627.0,171.3" fill="none" stroke="#2b7bbd" stroke-width="1.6"/>
<path d="M473.6,160.5 Q473.5,167.5 477.5,172.5" fill="none" stroke="#2b7bbd" stroke-width="1.4"/>
<text x="332.8" y="57.9" font-size="7" fill="#5aaa32" text-anchor="middle" >+0</text>
<text x="339.5" y="79.5" font-size="7" fill="#c98a3c" text-anchor="middle" >+1</text>
<text x="476.5" y="60.0" font-size="7" fill="#5aaa32" text-anchor="middle" >+0</text>
<text x="486.5" y="82.7" font-size="7" fill="#c98a3c" text-anchor="middle" >+1</text>
<text x="622.5" y="57.9" font-size="7" fill="#5aaa32" text-anchor="middle" >+0</text>
<text x="635.1" y="80.0" font-size="7" fill="#c98a3c" text-anchor="middle" >+1</text>
<text x="333.5" y="160.0" font-size="7" fill="#5aaa32" text-anchor="middle" >+0</text>
<text x="357.6" y="165.5" font-size="7" fill="#f26b6b" text-anchor="middle" >−1</text>
<text x="485.9" y="167.8" font-size="7" fill="#5aaa32" text-anchor="middle" >+0</text>
<text x="508.0" y="160.7" font-size="7" fill="#f26b6b" text-anchor="middle" >−1</text>
<text x="631.5" y="161.5" font-size="7" fill="#5aaa32" text-anchor="middle" >+0</text>
<text x="650.8" y="154.5" font-size="7" fill="#f26b6b" text-anchor="middle" >−1</text>
<text x="335.9" y="239.5" font-size="7" fill="#5aaa32" text-anchor="middle" >+0</text>
<text x="340.0" y="258.3" font-size="7" fill="#f26b6b" text-anchor="middle" >−1</text>
<text x="354.7" y="256.7" font-size="7" fill="#c98a3c" text-anchor="middle" >+1</text>
<text x="485.9" y="241.0" font-size="7" fill="#5aaa32" text-anchor="middle" >+0</text>
<text x="490.0" y="260.0" font-size="7" fill="#f26b6b" text-anchor="middle" >−1</text>
<text x="504.8" y="258.3" font-size="7" fill="#c98a3c" text-anchor="middle" >+1</text>
<text x="637.8" y="243.7" font-size="7" fill="#5aaa32" text-anchor="middle" >+0</text>
<text x="628.8" y="256.7" font-size="7" fill="#f26b6b" text-anchor="middle" >−1</text>
<text x="655.5" y="255.2" font-size="7" fill="#c98a3c" text-anchor="middle" >+1</text>
<rect x="30.5" y="309.5" width="189.0" height="188.7" fill="none" stroke="#7a7a7a" stroke-width="1.1"/>
<line x1="26.9" y1="318.6" x2="30.5" y2="318.6" stroke="#7a7a7a" stroke-width="1"/>
<text x="23.2" y="321.3" font-size="7.6" fill="#2a2a2a" text-anchor="end" >1.0</text>
<line x1="26.9" y1="352.76" x2="30.5" y2="352.76" stroke="#7a7a7a" stroke-width="1"/>
<text x="23.2" y="355.46" font-size="7.6" fill="#2a2a2a" text-anchor="end" >0.8</text>
<line x1="26.9" y1="386.92" x2="30.5" y2="386.92" stroke="#7a7a7a" stroke-width="1"/>
<text x="23.2" y="389.62" font-size="7.6" fill="#2a2a2a" text-anchor="end" >0.6</text>
<line x1="26.9" y1="421.08000000000004" x2="30.5" y2="421.08000000000004" stroke="#7a7a7a" stroke-width="1"/>
<text x="23.2" y="423.78000000000003" font-size="7.6" fill="#2a2a2a" text-anchor="end" >0.4</text>
<line x1="26.9" y1="455.24" x2="30.5" y2="455.24" stroke="#7a7a7a" stroke-width="1"/>
<text x="23.2" y="457.94" font-size="7.6" fill="#2a2a2a" text-anchor="end" >0.2</text>
<line x1="26.9" y1="489.4" x2="30.5" y2="489.4" stroke="#7a7a7a" stroke-width="1"/>
<text x="23.2" y="492.09999999999997" font-size="7.6" fill="#2a2a2a" text-anchor="end" >0</text>
<text x="125.5" y="302.5" font-size="8.8" fill="#333" text-anchor="middle" >Adder</text>
<path d="M38.80,318.60 L124.70,319.80 L210.70,318.60" fill="none" stroke="#a8a43a" stroke-width="1.3"/>
<circle cx="38.8" cy="318.59999999999997" r="2.55" fill="#858000"/>
<circle cx="124.7" cy="319.7956" r="2.55" fill="#858000"/>
<circle cx="210.7" cy="318.59999999999997" r="2.55" fill="#858000"/>
<path d="M38.80,489.40 L124.70,489.40 L210.70,489.40" fill="none" stroke="#6cc46c" stroke-width="1.3"/>
<circle cx="38.8" cy="489.4" r="2.55" fill="#2ca02c"/>
<circle cx="124.7" cy="489.4" r="2.55" fill="#2ca02c"/>
<circle cx="210.7" cy="489.4" r="2.55" fill="#2ca02c"/>
<path d="M38.80,419.37 L124.70,407.76 L210.70,390.34" fill="none" stroke="#111" stroke-width="1.0"/>
<path d="M34.099999999999994,414.67199999999997 L43.5,424.07199999999995 M34.099999999999994,424.07199999999995 L43.5,414.67199999999997" stroke="#111" stroke-width="1.15" fill="none"/>
<path d="M120.0,403.0576 L129.4,412.45759999999996 M120.0,412.45759999999996 L129.4,403.0576" stroke="#111" stroke-width="1.15" fill="none"/>
<path d="M206.0,385.636 L215.39999999999998,395.036 M206.0,395.036 L215.39999999999998,385.636" stroke="#111" stroke-width="1.15" fill="none"/>
<line x1="159.8" y1="448.5" x2="176.5" y2="448.5" stroke="#a8a43a" stroke-width="1.3"/>
<circle cx="168.10000000000002" cy="448.5" r="2.55" fill="#858000"/>
<text x="180.4" y="451.3" font-size="8.0" fill="#333" text-anchor="start" >GSkyN1</text>
<line x1="159.8" y1="460.0" x2="176.5" y2="460.0" stroke="#6cc46c" stroke-width="1.3"/>
<circle cx="168.10000000000002" cy="460.0" r="2.55" fill="#2ca02c"/>
<text x="180.4" y="462.8" font-size="8.0" fill="#333" text-anchor="start" >GSkyN2</text>
<line x1="159.8" y1="471.3" x2="176.5" y2="471.3" stroke="#111" stroke-width="1.0"/>
<path d="M163.70000000000002,466.90000000000003 L172.50000000000003,475.7 M163.70000000000002,475.7 L172.50000000000003,466.90000000000003" stroke="#111" stroke-width="1.15" fill="none"/>
<text x="180.4" y="474.1" font-size="8.0" fill="#333" text-anchor="start" >SkyN</text>
<polygon points="38.80,496.00 40.54,499.90 44.79,500.35 41.62,503.21 42.50,507.40 38.80,505.26 35.10,507.40 35.98,503.21 32.81,500.35 37.06,499.90" fill="#8fa3f6"/>
<polygon points="124.70,496.00 126.44,499.90 130.69,500.35 127.52,503.21 128.40,507.40 124.70,505.26 121.00,507.40 121.88,503.21 118.71,500.35 122.96,499.90" fill="#4f82f0"/>
<polygon points="210.70,496.00 212.44,499.90 216.69,500.35 213.52,503.21 214.40,507.40 210.70,505.26 207.00,507.40 207.88,503.21 204.71,500.35 208.96,499.90" fill="#2121ee"/>
<rect x="259.5" y="309.3" width="190.2" height="190.0" fill="none" stroke="#7a7a7a" stroke-width="1.1"/>
<line x1="255.9" y1="317.6" x2="259.5" y2="317.6" stroke="#7a7a7a" stroke-width="1"/>
<text x="252.2" y="320.3" font-size="7.6" fill="#2a2a2a" text-anchor="end" >0</text>
<line x1="255.9" y1="352.14000000000004" x2="259.5" y2="352.14000000000004" stroke="#7a7a7a" stroke-width="1"/>
<text x="252.2" y="354.84000000000003" font-size="7.6" fill="#2a2a2a" text-anchor="end" >−0.2</text>
<line x1="255.9" y1="386.68" x2="259.5" y2="386.68" stroke="#7a7a7a" stroke-width="1"/>
<text x="252.2" y="389.38" font-size="7.6" fill="#2a2a2a" text-anchor="end" >−0.4</text>
<line x1="255.9" y1="421.22" x2="259.5" y2="421.22" stroke="#7a7a7a" stroke-width="1"/>
<text x="252.2" y="423.92" font-size="7.6" fill="#2a2a2a" text-anchor="end" >−0.6</text>
<line x1="255.9" y1="455.76" x2="259.5" y2="455.76" stroke="#7a7a7a" stroke-width="1"/>
<text x="252.2" y="458.46" font-size="7.6" fill="#2a2a2a" text-anchor="end" >−0.8</text>
<line x1="255.9" y1="490.3" x2="259.5" y2="490.3" stroke="#7a7a7a" stroke-width="1"/>
<text x="252.2" y="493.0" font-size="7.6" fill="#2a2a2a" text-anchor="end" >−1.0</text>
<text x="354.4" y="302.5" font-size="8.8" fill="#333" text-anchor="middle" >Subtractor</text>
<path d="M267.80,490.30 L354.40,490.30 L441.00,490.30" fill="none" stroke="#f4a4a4" stroke-width="1.3"/>
<circle cx="267.8" cy="490.3" r="2.55" fill="#f08080"/>
<circle cx="354.4" cy="490.3" r="2.55" fill="#f08080"/>
<circle cx="441.0" cy="490.3" r="2.55" fill="#f08080"/>
<path d="M267.80,317.60 L354.40,317.60 L441.00,317.60" fill="none" stroke="#6cc46c" stroke-width="1.3"/>
<circle cx="267.8" cy="317.6" r="2.55" fill="#2ca02c"/>
<circle cx="354.4" cy="317.6" r="2.55" fill="#2ca02c"/>
<circle cx="441.0" cy="317.6" r="2.55" fill="#2ca02c"/>
<path d="M267.80,392.21 L354.40,392.21 L441.00,419.49" fill="none" stroke="#111" stroke-width="1.0"/>
<path d="M263.1,387.50640000000004 L272.5,396.9064 M263.1,396.9064 L272.5,387.50640000000004" stroke="#111" stroke-width="1.15" fill="none"/>
<path d="M349.7,387.50640000000004 L359.09999999999997,396.9064 M349.7,396.9064 L359.09999999999997,387.50640000000004" stroke="#111" stroke-width="1.15" fill="none"/>
<path d="M436.3,414.793 L445.7,424.193 M436.3,424.193 L445.7,414.793" stroke="#111" stroke-width="1.15" fill="none"/>
<line x1="389.8" y1="449.0" x2="406.5" y2="449.0" stroke="#f4a4a4" stroke-width="1.3"/>
<circle cx="398.1" cy="449.0" r="2.55" fill="#f08080"/>
<text x="410.40000000000003" y="451.8" font-size="8.0" fill="#333" text-anchor="start" >GSkyN1</text>
<line x1="389.8" y1="460.6" x2="406.5" y2="460.6" stroke="#6cc46c" stroke-width="1.3"/>
<circle cx="398.1" cy="460.6" r="2.55" fill="#2ca02c"/>
<text x="410.40000000000003" y="463.40000000000003" font-size="8.0" fill="#333" text-anchor="start" >GSkyN2</text>
<line x1="389.8" y1="472.4" x2="406.5" y2="472.4" stroke="#111" stroke-width="1.0"/>
<path d="M393.70000000000005,468.0 L402.5,476.79999999999995 M393.70000000000005,476.79999999999995 L402.5,468.0" stroke="#111" stroke-width="1.15" fill="none"/>
<text x="410.40000000000003" y="475.2" font-size="8.0" fill="#333" text-anchor="start" >SkyN</text>
<rect x="493.5" y="308.5" width="190.89999999999998" height="191.0" fill="none" stroke="#7a7a7a" stroke-width="1.1"/>
<line x1="489.9" y1="317.4" x2="493.5" y2="317.4" stroke="#7a7a7a" stroke-width="1"/>
<text x="486.2" y="320.09999999999997" font-size="7.6" fill="#2a2a2a" text-anchor="end" >1.00</text>
<line x1="489.9" y1="339.04999999999995" x2="493.5" y2="339.04999999999995" stroke="#7a7a7a" stroke-width="1"/>
<text x="486.2" y="341.74999999999994" font-size="7.6" fill="#2a2a2a" text-anchor="end" >0.75</text>
<line x1="489.9" y1="360.7" x2="493.5" y2="360.7" stroke="#7a7a7a" stroke-width="1"/>
<text x="486.2" y="363.4" font-size="7.6" fill="#2a2a2a" text-anchor="end" >0.50</text>
<line x1="489.9" y1="382.34999999999997" x2="493.5" y2="382.34999999999997" stroke="#7a7a7a" stroke-width="1"/>
<text x="486.2" y="385.04999999999995" font-size="7.6" fill="#2a2a2a" text-anchor="end" >0.25</text>
<line x1="489.9" y1="404.0" x2="493.5" y2="404.0" stroke="#7a7a7a" stroke-width="1"/>
<text x="486.2" y="406.7" font-size="7.6" fill="#2a2a2a" text-anchor="end" >0</text>
<line x1="489.9" y1="425.65" x2="493.5" y2="425.65" stroke="#7a7a7a" stroke-width="1"/>
<text x="486.2" y="428.34999999999997" font-size="7.6" fill="#2a2a2a" text-anchor="end" >−0.25</text>
<line x1="489.9" y1="447.29999999999995" x2="493.5" y2="447.29999999999995" stroke="#7a7a7a" stroke-width="1"/>
<text x="486.2" y="449.99999999999994" font-size="7.6" fill="#2a2a2a" text-anchor="end" >−0.50</text>
<line x1="489.9" y1="468.94999999999993" x2="493.5" y2="468.94999999999993" stroke="#7a7a7a" stroke-width="1"/>
<text x="486.2" y="471.6499999999999" font-size="7.6" fill="#2a2a2a" text-anchor="end" >−0.75</text>
<line x1="489.9" y1="490.59999999999997" x2="493.5" y2="490.59999999999997" stroke="#7a7a7a" stroke-width="1"/>
<text x="486.2" y="493.29999999999995" font-size="7.6" fill="#2a2a2a" text-anchor="end" >−1.00</text>
<text x="588.9" y="302.5" font-size="8.8" fill="#333" text-anchor="middle" >Adder and subtractor</text>
<path d="M501.90,317.40 L588.90,317.40 L675.90,317.40" fill="none" stroke="#a8a43a" stroke-width="1.3"/>
<circle cx="501.9" cy="317.4" r="2.55" fill="#858000"/>
<circle cx="588.9" cy="317.4" r="2.55" fill="#858000"/>
<circle cx="675.9" cy="317.4" r="2.55" fill="#858000"/>
<path d="M501.90,490.60 L588.90,490.60 L675.90,490.60" fill="none" stroke="#f4a4a4" stroke-width="1.3"/>
<circle cx="501.9" cy="490.6" r="2.55" fill="#f08080"/>
<circle cx="588.9" cy="490.6" r="2.55" fill="#f08080"/>
<circle cx="675.9" cy="490.6" r="2.55" fill="#f08080"/>
<path d="M501.90,404.00 L588.90,404.00 L675.90,404.00" fill="none" stroke="#6cc46c" stroke-width="1.3"/>
<circle cx="501.9" cy="404.0" r="2.55" fill="#2ca02c"/>
<circle cx="588.9" cy="404.0" r="2.55" fill="#2ca02c"/>
<circle cx="675.9" cy="404.0" r="2.55" fill="#2ca02c"/>
<path d="M501.90,402.79 L588.90,402.79 L675.90,399.93" fill="none" stroke="#111" stroke-width="1.0"/>
<path d="M497.2,398.0876 L506.59999999999997,407.4876 M497.2,407.4876 L506.59999999999997,398.0876" stroke="#111" stroke-width="1.15" fill="none"/>
<path d="M584.1999999999999,398.0876 L593.6,407.4876 M584.1999999999999,407.4876 L593.6,398.0876" stroke="#111" stroke-width="1.15" fill="none"/>
<path d="M671.1999999999999,395.2298 L680.6,404.6298 M671.1999999999999,404.6298 L680.6,395.2298" stroke="#111" stroke-width="1.15" fill="none"/>
<line x1="624.2" y1="437.4" x2="640.9000000000001" y2="437.4" stroke="#a8a43a" stroke-width="1.3"/>
<circle cx="632.5" cy="437.4" r="2.55" fill="#858000"/>
<text x="644.8000000000001" y="440.2" font-size="8.0" fill="#333" text-anchor="start" >GSkyN1</text>
<line x1="624.2" y1="448.9" x2="640.9000000000001" y2="448.9" stroke="#f4a4a4" stroke-width="1.3"/>
<circle cx="632.5" cy="448.9" r="2.55" fill="#f08080"/>
<text x="644.8000000000001" y="451.7" font-size="8.0" fill="#333" text-anchor="start" >GSkyN2</text>
<line x1="624.2" y1="460.7" x2="640.9000000000001" y2="460.7" stroke="#6cc46c" stroke-width="1.3"/>
<circle cx="632.5" cy="460.7" r="2.55" fill="#2ca02c"/>
<text x="644.8000000000001" y="463.5" font-size="8.0" fill="#333" text-anchor="start" >GSkyN3</text>
<line x1="624.2" y1="472.2" x2="640.9000000000001" y2="472.2" stroke="#111" stroke-width="1.0"/>
<path d="M628.1,467.8 L636.9,476.59999999999997 M628.1,476.59999999999997 L636.9,467.8" stroke="#111" stroke-width="1.15" fill="none"/>
<text x="644.8000000000001" y="475.0" font-size="8.0" fill="#333" text-anchor="start" >SkyN</text>
</svg>
</body></html>
